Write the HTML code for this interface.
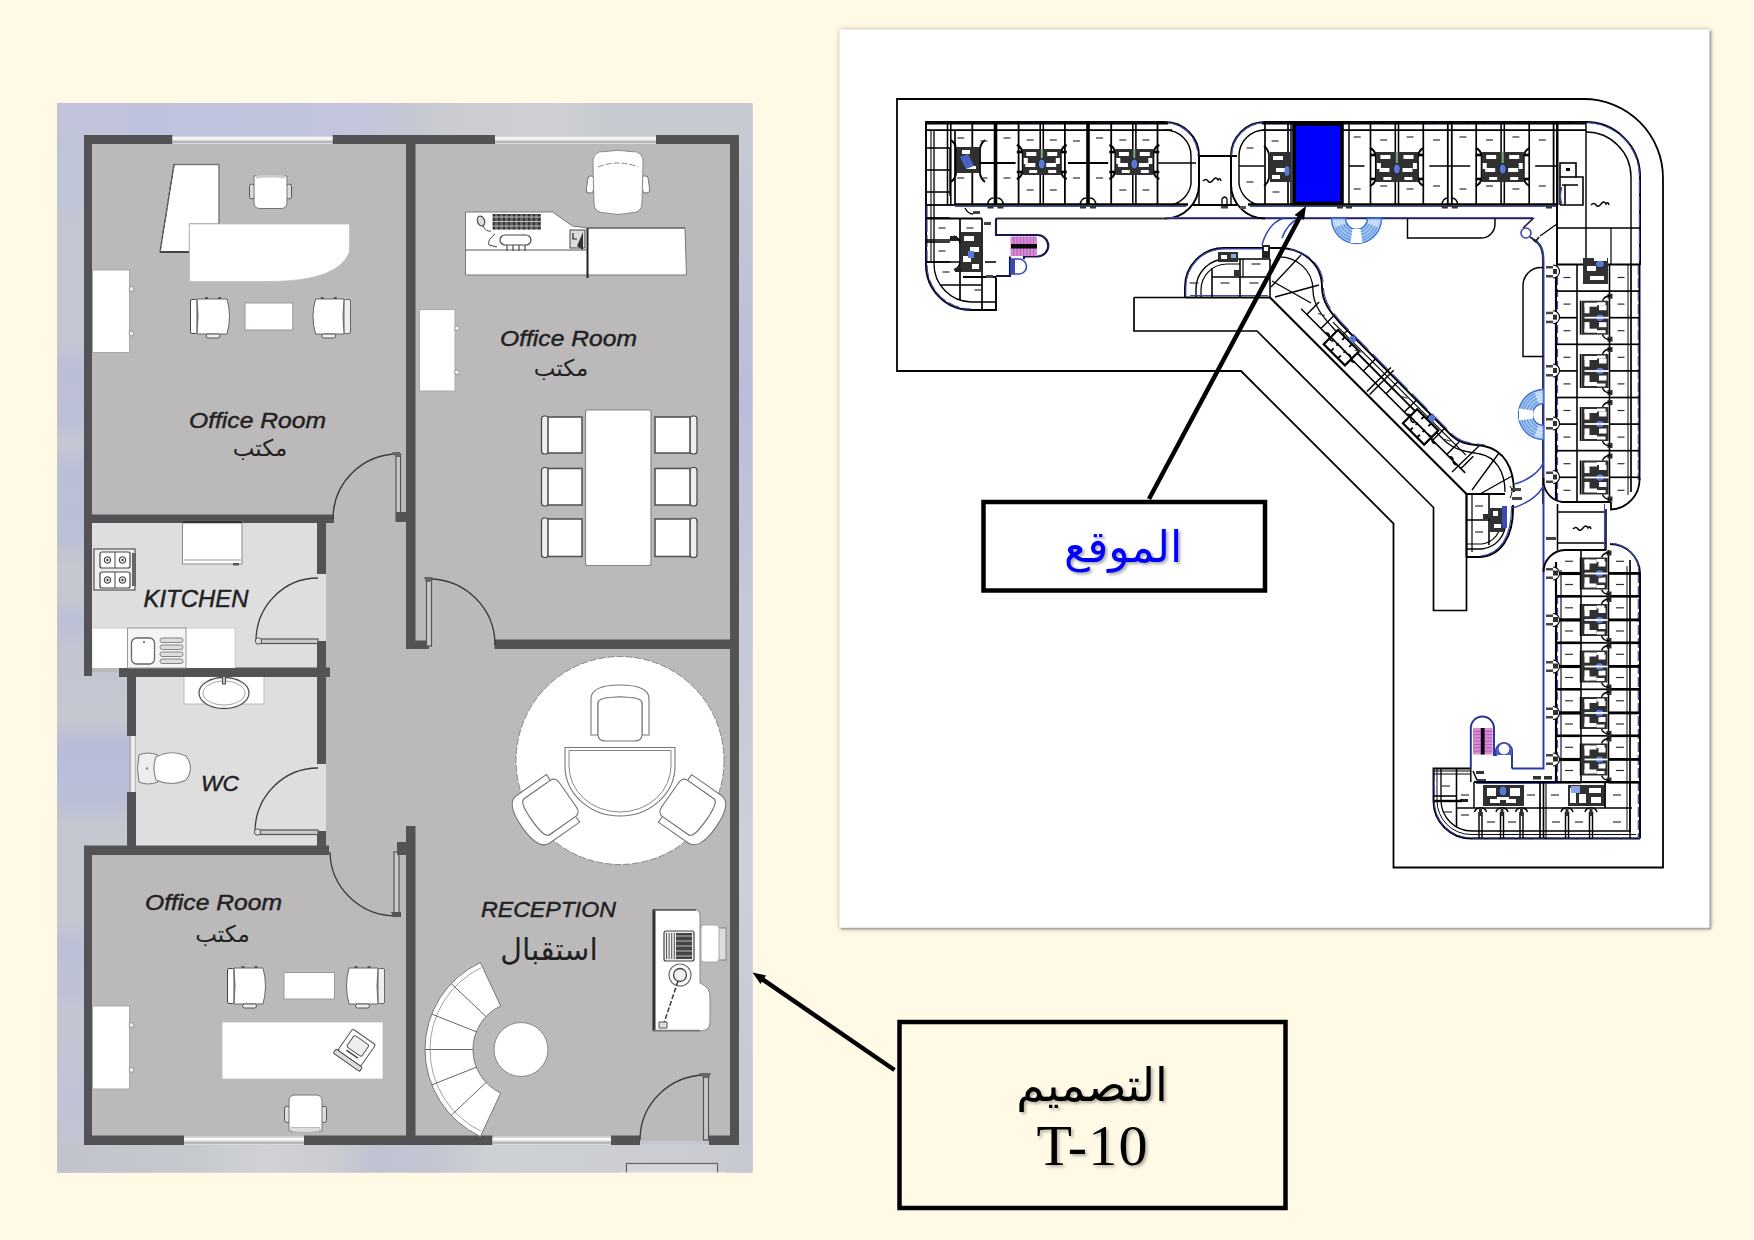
<!DOCTYPE html>
<html lang="ar"><head><meta charset="utf-8"><title>T-10</title>
<style>
html,body{margin:0;padding:0;background:#FFF9E6;}
body{width:1754px;height:1240px;overflow:hidden;}
svg{display:block}
</style></head><body>
<svg width="1754" height="1240" viewBox="0 0 1754 1240">
<defs><filter id="sh" x="-2%" y="-2%" width="104%" height="104%"><feDropShadow dx="0.5" dy="0.5" stdDeviation="2.2" flood-color="#5a4a20" flood-opacity="0.6"/></filter></defs>
<rect width="1754" height="1240" fill="#FFF9E6"/>
<g id="plan">
<defs>
<linearGradient id="bgA" x1="0" y1="0" x2="1" y2="0"><stop offset="0" stop-color="#BEC1DD"/><stop offset="0.42" stop-color="#C2C5DD"/><stop offset="0.50" stop-color="#C4C7D2"/><stop offset="0.56" stop-color="#CACCD1"/><stop offset="0.72" stop-color="#CED0D4"/><stop offset="0.8" stop-color="#C6C9CF"/><stop offset="1" stop-color="#C7CAD0"/></linearGradient>
<linearGradient id="bgL" x1="0" y1="0" x2="0" y2="1"><stop offset="0.0" stop-color="#C0C3DA"/><stop offset="0.0907" stop-color="#C0C5D7"/><stop offset="0.1187" stop-color="#C3C7D1"/><stop offset="0.2216" stop-color="#C3C7D1"/><stop offset="0.2496" stop-color="#BBBED7"/><stop offset="0.2964" stop-color="#BCC0D6"/><stop offset="0.3198" stop-color="#C5C8D2"/><stop offset="0.3432" stop-color="#BABED7"/><stop offset="0.4086" stop-color="#BCC0D6"/><stop offset="0.432" stop-color="#C5C8D0"/><stop offset="0.4647" stop-color="#C4C7D1"/><stop offset="0.4834" stop-color="#BBBFD6"/><stop offset="0.5115" stop-color="#C2C5D2"/><stop offset="0.5769" stop-color="#C5C8D0"/><stop offset="0.6003" stop-color="#B9BCD7"/><stop offset="0.6517" stop-color="#BABED7"/><stop offset="0.6751" stop-color="#C4C7D0"/><stop offset="0.7639" stop-color="#C4C7D0"/><stop offset="0.7873" stop-color="#BCC0D6"/><stop offset="0.8294" stop-color="#BEC1D6"/><stop offset="0.8481" stop-color="#C3C6D2"/><stop offset="0.9322" stop-color="#C0C3D5"/><stop offset="1.0" stop-color="#C2C5CF"/></linearGradient>
<linearGradient id="bgR" x1="0" y1="0" x2="0" y2="1"><stop offset="0" stop-color="#C6CAD2"/><stop offset="0.25" stop-color="#B9BDD8"/><stop offset="0.45" stop-color="#C5C8D6"/><stop offset="0.7" stop-color="#CDD0D6"/><stop offset="1" stop-color="#C4C7CF"/></linearGradient>
<linearGradient id="bgB" x1="0" y1="0" x2="1" y2="0"><stop offset="0" stop-color="#C0C3CC"/><stop offset="0.2" stop-color="#C6C9CE"/><stop offset="0.3" stop-color="#D0D2D6"/><stop offset="0.4" stop-color="#CACCD2"/><stop offset="0.46" stop-color="#BFC2D2"/><stop offset="0.55" stop-color="#C4C7D2"/><stop offset="0.62" stop-color="#CDD0D4"/><stop offset="0.9" stop-color="#CBCDD2"/><stop offset="1" stop-color="#C6C9D0"/></linearGradient>
</defs>
<rect x="57" y="103" width="695.5" height="1069.5" fill="#C3C6D2" />
<rect x="57" y="103" width="695.5" height="33" fill="url(#bgA)" />
<rect x="57" y="103" width="71" height="1069.5" fill="url(#bgL)" />
<rect x="739" y="136" width="13.5" height="1036.5" fill="url(#bgR)" />
<rect x="57" y="1144" width="695.5" height="28.5" fill="url(#bgB)" />
<path d="M88,139 H735 V1141 H88 V850 H131 V672 H88 Z" fill="#BBB9BA"/>
<rect x="92" y="523" width="234" height="145" fill="#DEDEDE" />
<rect x="136" y="677" width="190" height="169" fill="#DEDEDE" />
<rect x="84" y="135" width="88.5" height="9" fill="#535355" />
<rect x="332.5" y="135" width="162.5" height="9" fill="#535355" />
<rect x="656" y="135" width="83" height="9" fill="#535355" />
<rect x="172.5" y="136" width="160.0" height="8" fill="#D9D9DB" />
<line x1="172.5" y1="138.5" x2="332.5" y2="138.5" stroke="#fff" stroke-width="2"/>
<line x1="172.5" y1="142.0" x2="332.5" y2="142.0" stroke="#A9A9AB" stroke-width="1.5"/>
<rect x="495" y="136" width="161" height="8" fill="#D9D9DB" />
<line x1="495" y1="138.5" x2="656" y2="138.5" stroke="#fff" stroke-width="2"/>
<line x1="495" y1="142.0" x2="656" y2="142.0" stroke="#A9A9AB" stroke-width="1.5"/>
<rect x="84" y="135" width="8" height="541" fill="#535355" />
<rect x="84" y="846" width="8" height="299" fill="#535355" />
<rect x="730" y="135" width="9" height="1010" fill="#535355" />
<rect x="84" y="1135.5" width="100" height="9.5" fill="#535355" />
<rect x="304" y="1135.5" width="188.5" height="9.5" fill="#535355" />
<rect x="611" y="1135.5" width="29" height="9.5" fill="#535355" />
<rect x="709" y="1135.5" width="30" height="9.5" fill="#535355" />
<rect x="184" y="1136.5" width="120" height="8.5" fill="#D9D9DB" />
<line x1="184" y1="1139.25" x2="304" y2="1139.25" stroke="#fff" stroke-width="2"/>
<line x1="184" y1="1142.75" x2="304" y2="1142.75" stroke="#A9A9AB" stroke-width="1.5"/>
<rect x="492.5" y="1136.5" width="118.5" height="8.5" fill="#D9D9DB" />
<line x1="492.5" y1="1139.25" x2="611" y2="1139.25" stroke="#fff" stroke-width="2"/>
<line x1="492.5" y1="1142.75" x2="611" y2="1142.75" stroke="#A9A9AB" stroke-width="1.5"/>
<rect x="406" y="135" width="9.5" height="514" fill="#535355" />
<rect x="406" y="640.5" width="23" height="8.5" fill="#535355" />
<rect x="494.5" y="639.5" width="240.5" height="9.5" fill="#535355" />
<rect x="88" y="514.5" width="246" height="8.5" fill="#535355" />
<rect x="317" y="519" width="9" height="55" fill="#535355" />
<rect x="317" y="641" width="9" height="31" fill="#535355" />
<rect x="119" y="667.5" width="211" height="9.5" fill="#535355" />
<rect x="127" y="672" width="9" height="64" fill="#535355" />
<rect x="127" y="792" width="9" height="58" fill="#535355" />
<line x1="133" y1="736" x2="133" y2="792" stroke="#F4F4F4" stroke-width="3"/>
<line x1="129.5" y1="736" x2="129.5" y2="792" stroke="#A5A7B0" stroke-width="1.5"/>
<rect x="317" y="672" width="9" height="92" fill="#535355" />
<rect x="317" y="831" width="9" height="19" fill="#535355" />
<rect x="84" y="845.5" width="245" height="9.5" fill="#535355" />
<rect x="406" y="826" width="9.5" height="319" fill="#535355" />
<path d="M398,454 A65,65 0 0 0 333,519" fill="none" stroke="#3c3c3c" stroke-width="1.3"/>
<rect x="396" y="454" width="4.5" height="67" fill="#C9C9C9" stroke="#555" stroke-width="1.2"/>
<path d="M392,452 l8,0 l0,5 l-4,0 z" fill="#666"/>
<rect x="396" y="512" width="10" height="10" fill="#535355" />
<path d="M429,579 A66,66 0 0 1 495,645" fill="none" stroke="#3c3c3c" stroke-width="1.3"/>
<rect x="426.5" y="579" width="5.0" height="67" fill="#C9C9C9" stroke="#555" stroke-width="1.2"/>
<path d="M424,577 l9,0 l-3,5 l-4,0 z" fill="#666"/>
<path d="M318,578 A62,63 0 0 0 256,641" fill="none" stroke="#3c3c3c" stroke-width="1.3"/>
<rect x="257" y="639" width="61" height="4.5" fill="#C9C9C9" stroke="#555" stroke-width="1.2"/>
<circle cx="258.5" cy="641" r="3.2" fill="#ddd" stroke="#555" stroke-width="1"/>
<path d="M318,768 A63,64 0 0 0 255,832" fill="none" stroke="#3c3c3c" stroke-width="1.3"/>
<rect x="256" y="830" width="62" height="4.5" fill="#C9C9C9" stroke="#555" stroke-width="1.2"/>
<circle cx="257.5" cy="832" r="3.2" fill="#ddd" stroke="#555" stroke-width="1"/>
<path d="M330,852 A66,65 0 0 0 396,916" fill="none" stroke="#3c3c3c" stroke-width="1.3"/>
<rect x="394" y="852" width="5" height="63" fill="#C9C9C9" stroke="#555" stroke-width="1.2"/>
<path d="M391,912 l10,0 l0,5 l-8,0 z" fill="#555"/>
<rect x="397" y="842" width="9" height="13" fill="#535355" />
<path d="M706,1075 A66,65 0 0 0 640,1140" fill="none" stroke="#3c3c3c" stroke-width="1.3"/>
<rect x="703.5" y="1076" width="5.0" height="64" fill="#C9C9C9" stroke="#555" stroke-width="1.2"/>
<path d="M699,1073 l12,0 l-2,5 l-6,0 z" fill="#666"/>
<path d="M174,164.5 H219 V224 H189.5 V252 H160 Z" fill="#fff" stroke="#666" stroke-width="1.2"/>
<line x1="174" y1="164.5" x2="219" y2="164.5" stroke="#777" stroke-width="1.3"/>
<line x1="174" y1="164.5" x2="160" y2="252" stroke="#555" stroke-width="1.3" stroke-dasharray="4 1.5"/>
<line x1="160" y1="252" x2="189.5" y2="252" stroke="#444" stroke-width="2"/>
<path d="M189.5,224 H349.5 V252 Q338,281.5 269,281.5 H189.5 Z" fill="#fff" stroke="#bbb" stroke-width="0.8"/>
<rect x="249.5" y="184.3" width="5" height="14.5" rx="2" fill="#ddd" stroke="#555" stroke-width="1"/>
<rect x="286.5" y="184.3" width="5" height="14.5" rx="2" fill="#ddd" stroke="#555" stroke-width="1"/>
<path d="M254,176 Q270.5,173 287,176 V202.5 Q287,208.5 281,208.5 H260 Q254,208.5 254,202.5 Z" fill="#fff" stroke="#777" stroke-width="1"/>
<path d="M256,175.5 Q270.5,173 285,175.5 V178.5 Q270.5,176.5 256,178.5 Z" fill="#ccc"/>
<rect x="92.5" y="270" width="37.0" height="82.5" rx="0" fill="#fff" stroke="#aaa" stroke-width="1"/>
<circle cx="131.5" cy="289.0" r="2.4" fill="#eee" stroke="#888" stroke-width="0.8"/>
<circle cx="131.5" cy="333.5" r="2.4" fill="#eee" stroke="#888" stroke-width="0.8"/>
<rect x="190.5" y="299.5" width="6.5" height="34" rx="1.5" fill="#fff" stroke="#444" stroke-width="1"/>
<path d="M197,299 H227 Q232,316.5 227,334 H197 Q199,316.5 197,299 Z" fill="#fff" stroke="#666" stroke-width="1"/>
<rect x="206.0" y="334" width="14" height="4" rx="2" fill="#eee" stroke="#555" stroke-width="1"/>
<rect x="205.0" y="297" width="3" height="2" fill="#555"/><rect x="218.0" y="297" width="3" height="2" fill="#555"/>
<rect x="245" y="303" width="47.7" height="27" rx="0" fill="#fff" stroke="#999" stroke-width="1"/>
<rect x="344" y="299.5" width="6.5" height="34" rx="1.5" fill="#eee" stroke="#666" stroke-width="1"/>
<path d="M344,299 H315.5 Q310.5,316.5 315.5,334 H344 Q342,316.5 344,299 Z" fill="#fff" stroke="#666" stroke-width="1"/>
<rect x="321.75" y="334" width="14" height="4" rx="2" fill="#eee" stroke="#555" stroke-width="1"/>
<rect x="320.75" y="297" width="3" height="2" fill="#555"/><rect x="333.75" y="297" width="3" height="2" fill="#555"/>
<path d="M465.5,212 H552.5 L572.5,226 L587.5,228 H685 L686.5,275 H465.5 Z" fill="#fff" stroke="#777" stroke-width="1"/>
<line x1="465.5" y1="250" x2="587.5" y2="250" stroke="#555" stroke-width="1.2"/>
<line x1="587.5" y1="228" x2="587.5" y2="278" stroke="#222" stroke-width="2"/>
<line x1="587.5" y1="228" x2="685" y2="228" stroke="#555" stroke-width="1.2"/>
<rect x="492.5" y="214" width="48.5" height="15.5" fill="#666"/>
<line x1="494" y1="214" x2="494" y2="229.5" stroke="#222" stroke-width="1.4"/>
<line x1="499" y1="214" x2="499" y2="229.5" stroke="#222" stroke-width="1.4"/>
<line x1="504" y1="214" x2="504" y2="229.5" stroke="#222" stroke-width="1.4"/>
<line x1="509" y1="214" x2="509" y2="229.5" stroke="#222" stroke-width="1.4"/>
<line x1="514" y1="214" x2="514" y2="229.5" stroke="#222" stroke-width="1.4"/>
<line x1="519" y1="214" x2="519" y2="229.5" stroke="#222" stroke-width="1.4"/>
<line x1="524" y1="214" x2="524" y2="229.5" stroke="#222" stroke-width="1.4"/>
<line x1="529" y1="214" x2="529" y2="229.5" stroke="#222" stroke-width="1.4"/>
<line x1="534" y1="214" x2="534" y2="229.5" stroke="#222" stroke-width="1.4"/>
<line x1="539" y1="214" x2="539" y2="229.5" stroke="#222" stroke-width="1.4"/>
<line x1="492.5" y1="217.0" x2="541" y2="217.0" stroke="#ddd" stroke-width="0.8"/>
<line x1="492.5" y1="221.5" x2="541" y2="221.5" stroke="#ddd" stroke-width="0.8"/>
<line x1="492.5" y1="226.0" x2="541" y2="226.0" stroke="#ddd" stroke-width="0.8"/>
<ellipse cx="481" cy="221" rx="3.5" ry="5" fill="#ddd" stroke="#444" stroke-width="1.2" transform="rotate(-20 481 221)"/>
<path d="M483,226 q3,6 8,5" fill="none" stroke="#444" stroke-width="1"/>
<path d="M495,234 q-8,6 -6,11 l8,2" fill="none" stroke="#444" stroke-width="1"/>
<rect x="500" y="235" width="31" height="10" rx="5" fill="#fff" stroke="#444" stroke-width="1.2"/>
<line x1="507" y1="245" x2="507" y2="251" stroke="#555" stroke-width="1.3"/>
<line x1="513" y1="245" x2="513" y2="251" stroke="#555" stroke-width="1.3"/>
<line x1="519" y1="245" x2="519" y2="251" stroke="#555" stroke-width="1.3"/>
<line x1="525" y1="245" x2="525" y2="251" stroke="#555" stroke-width="1.3"/>
<rect x="570" y="230" width="15" height="18" fill="#ddd" stroke="#444" stroke-width="1"/>
<path d="M573,233 v6 h4" fill="none" stroke="#222" stroke-width="1.2"/>
<path d="M583,232 v18 l-6,-4 z" fill="#333"/>
<rect x="587" y="176" width="7" height="17" rx="3" fill="#fff" stroke="#777" stroke-width="1" transform="rotate(8 590 185)"/>
<rect x="642" y="176" width="7" height="17" rx="3" fill="#fff" stroke="#777" stroke-width="1" transform="rotate(-8 645 185)"/>
<path d="M593,166 Q591,150 606,151.5 Q618,149 630,151.5 Q645,150 643,166 L642,203 Q642,213 630,213 Q618,216 606,213 Q594,213 594,203 Z" fill="#fff" stroke="#888" stroke-width="1"/>
<path d="M598,167 Q618,159 638,167" fill="none" stroke="#888" stroke-width="1" stroke-dasharray="6 2"/>
<rect x="419.5" y="309.5" width="35.5" height="81.5" rx="0" fill="#fff" stroke="#aaa" stroke-width="1"/>
<circle cx="457" cy="328.2" r="2.4" fill="#eee" stroke="#888" stroke-width="0.8"/>
<circle cx="457" cy="372.3" r="2.4" fill="#eee" stroke="#888" stroke-width="0.8"/>
<rect x="585.5" y="410" width="65.5" height="155.5" rx="2" fill="#fff" stroke="#888" stroke-width="1.2"/>
<rect x="541.5" y="416" width="7" height="38" rx="3" fill="#eee" stroke="#444" stroke-width="1.2"/>
<rect x="548" y="417" width="34" height="36" rx="0" fill="#fff" stroke="#555" stroke-width="1.6"/>
<rect x="690" y="416" width="7" height="38" rx="3" fill="#eee" stroke="#444" stroke-width="1.2"/>
<rect x="655" y="417" width="35" height="36" rx="0" fill="#fff" stroke="#555" stroke-width="1.6"/>
<rect x="541.5" y="467.5" width="7" height="38.5" rx="3" fill="#eee" stroke="#444" stroke-width="1.2"/>
<rect x="548" y="468.5" width="34" height="36.5" rx="0" fill="#fff" stroke="#555" stroke-width="1.6"/>
<rect x="690" y="467.5" width="7" height="38.5" rx="3" fill="#eee" stroke="#444" stroke-width="1.2"/>
<rect x="655" y="468.5" width="35" height="36.5" rx="0" fill="#fff" stroke="#555" stroke-width="1.6"/>
<rect x="541.5" y="518" width="7" height="39.5" rx="3" fill="#eee" stroke="#444" stroke-width="1.2"/>
<rect x="548" y="519" width="34" height="37.5" rx="0" fill="#fff" stroke="#555" stroke-width="1.6"/>
<rect x="690" y="518" width="7" height="39.5" rx="3" fill="#eee" stroke="#444" stroke-width="1.2"/>
<rect x="655" y="519" width="35" height="37.5" rx="0" fill="#fff" stroke="#555" stroke-width="1.6"/>
<rect x="182.5" y="521" width="59.5" height="43" rx="0" fill="#fff" stroke="#888" stroke-width="1"/>
<line x1="182.5" y1="522" x2="242" y2="522" stroke="#333" stroke-width="2.5"/>
<line x1="184" y1="560" x2="241" y2="560" stroke="#999" stroke-width="1"/>
<rect x="233" y="563" width="6" height="2.5" fill="#555"/>
<rect x="94" y="549" width="41" height="41" fill="#eee" stroke="#555" stroke-width="1.2"/>
<rect x="132" y="553" width="4" height="33" fill="#666"/>
<rect x="100" y="552" width="30" height="16" rx="2" fill="#fff" stroke="#444" stroke-width="1.2"/>
<line x1="115" y1="552" x2="115" y2="568" stroke="#444" stroke-width="1"/>
<circle cx="107.5" cy="560" r="3.3" fill="#ddd" stroke="#333" stroke-width="1"/><circle cx="107.5" cy="560" r="1" fill="#222"/>
<circle cx="122.5" cy="560" r="3.3" fill="#ddd" stroke="#333" stroke-width="1"/><circle cx="122.5" cy="560" r="1" fill="#222"/>
<rect x="100" y="572" width="30" height="16" rx="2" fill="#fff" stroke="#444" stroke-width="1.2"/>
<line x1="115" y1="572" x2="115" y2="588" stroke="#444" stroke-width="1"/>
<circle cx="107.5" cy="580" r="3.3" fill="#ddd" stroke="#333" stroke-width="1"/><circle cx="107.5" cy="580" r="1" fill="#222"/>
<circle cx="122.5" cy="580" r="3.3" fill="#ddd" stroke="#333" stroke-width="1"/><circle cx="122.5" cy="580" r="1" fill="#222"/>
<rect x="92.5" y="628" width="142.5" height="40" fill="#fff" />
<path d="M92.5,628 H235 V668" fill="none" stroke="#ccc" stroke-width="1"/>
<rect x="127.5" y="628" width="58.5" height="40" fill="#f4f4f4" stroke="#999" stroke-width="1"/>
<rect x="131.5" y="638" width="23" height="26" rx="5" fill="#fff" stroke="#666" stroke-width="1.3"/>
<circle cx="144" cy="642" r="1" fill="#555"/>
<rect x="160" y="638" width="23" height="4.5" rx="2.2" fill="#ddd" stroke="#777" stroke-width="0.9"/>
<rect x="160" y="645" width="23" height="4.5" rx="2.2" fill="#ddd" stroke="#777" stroke-width="0.9"/>
<rect x="160" y="652" width="23" height="4.5" rx="2.2" fill="#ddd" stroke="#777" stroke-width="0.9"/>
<rect x="160" y="659" width="23" height="4.5" rx="2.2" fill="#ddd" stroke="#777" stroke-width="0.9"/>
<rect x="184" y="677" width="80" height="27" fill="#fff" />
<path d="M184,677 V704 H264 V677" fill="none" stroke="#bbb" stroke-width="1"/>
<ellipse cx="224" cy="693" rx="25" ry="15.5" fill="#fff" stroke="#555" stroke-width="1.3"/>
<ellipse cx="224" cy="693" rx="21" ry="12" fill="#fff" stroke="#999" stroke-width="0.9"/>
<path d="M222.5,677 v7 h3 v-7" fill="#ccc" stroke="#444" stroke-width="1"/>
<path d="M139,755 Q147,751 158,755 L158,782 Q147,786 139,782 Q136,768 139,755 Z" fill="#eee" stroke="#777" stroke-width="1"/>
<circle cx="147" cy="768.5" r="1.3" fill="#888"/>
<path d="M156,757 Q172,749 186,756 Q195,768 186,780 Q172,787 156,780 Q152,768 156,757 Z" fill="#fff" stroke="#888" stroke-width="1.2"/>
<rect x="92.5" y="1006" width="37.0" height="83" rx="0" fill="#fff" stroke="#aaa" stroke-width="1"/>
<circle cx="131.5" cy="1025.1" r="2.4" fill="#eee" stroke="#888" stroke-width="0.8"/>
<circle cx="131.5" cy="1069.9" r="2.4" fill="#eee" stroke="#888" stroke-width="0.8"/>
<rect x="227.5" y="968.5" width="6.5" height="35" rx="1.5" fill="#fff" stroke="#444" stroke-width="1"/>
<path d="M234,968 H263 Q268,986.0 263,1004 H234 Q236,986.0 234,968 Z" fill="#fff" stroke="#666" stroke-width="1"/>
<rect x="242.5" y="1004" width="14" height="4" rx="2" fill="#eee" stroke="#555" stroke-width="1"/>
<rect x="241.5" y="966" width="3" height="2" fill="#555"/><rect x="254.5" y="966" width="3" height="2" fill="#555"/>
<rect x="284" y="972.5" width="50.5" height="26.5" rx="0" fill="#fff" stroke="#999" stroke-width="1"/>
<rect x="378" y="968.5" width="6.5" height="35" rx="1.5" fill="#eee" stroke="#666" stroke-width="1"/>
<path d="M378,968 H349 Q344,986.0 349,1004 H378 Q376,986.0 378,968 Z" fill="#fff" stroke="#666" stroke-width="1"/>
<rect x="355.5" y="1004" width="14" height="4" rx="2" fill="#eee" stroke="#555" stroke-width="1"/>
<rect x="354.5" y="966" width="3" height="2" fill="#555"/><rect x="367.5" y="966" width="3" height="2" fill="#555"/>
<rect x="222" y="1022" width="161" height="57" rx="0" fill="#fff" stroke="#bbb" stroke-width="0.8"/>
<g transform="rotate(35 355 1050)"><rect x="341" y="1034" width="28" height="26" rx="2" fill="#fff" stroke="#555" stroke-width="1"/><rect x="346" y="1038" width="18" height="14" rx="2" fill="#eee" stroke="#555" stroke-width="1"/><rect x="339" y="1060" width="32" height="5" rx="1" fill="#ddd" stroke="#444" stroke-width="1"/><line x1="348" y1="1055" x2="362" y2="1055" stroke="#444" stroke-width="1.5"/></g>
<rect x="284.5" y="1106.4" width="5" height="16.0" rx="2" fill="#ddd" stroke="#555" stroke-width="1"/>
<rect x="321.5" y="1106.4" width="5" height="16.0" rx="2" fill="#ddd" stroke="#555" stroke-width="1"/>
<path d="M289,1131 Q305.5,1134 322,1131 V1101 Q322,1095 316,1095 H295 Q289,1095 289,1101 Z" fill="#fff" stroke="#777" stroke-width="1"/>
<path d="M291,1131.5 Q305.5,1134 320,1131.5 V1127.5 H291 Z" fill="#ddd" stroke="#999" stroke-width="0.6"/>
<circle cx="620" cy="760.5" r="104" fill="#fff" stroke="#888" stroke-width="1" stroke-dasharray="7 2"/>
<g transform="translate(620 713) rotate(0)"><path d="M-29,22 V-14 Q-29,-28 0,-28 Q29,-28 29,-14 V22 H22 V-10 Q22,-16 0,-16 Q-22,-16 -22,-10 V22 Z" fill="#fff" stroke="#777" stroke-width="1.1"/><path d="M-22,22 V-10 Q-22,-16 0,-16 Q22,-16 22,-10 V22 Q22,28 14,28 H-14 Q-22,28 -22,22 Z" fill="#fff" stroke="#777" stroke-width="1.1"/></g>
<path d="M565,747.5 H675 V766 A55,50 0 0 1 565,766 Z" fill="#fff" stroke="#777" stroke-width="1.1"/>
<path d="M569,750.5 H671 V766 A51,46 0 0 1 569,766 Z" fill="none" stroke="#888" stroke-width="1"/>
<g transform="translate(545 811) rotate(-125)"><path d="M-29,22 V-14 Q-29,-28 0,-28 Q29,-28 29,-14 V22 H22 V-10 Q22,-16 0,-16 Q-22,-16 -22,-10 V22 Z" fill="#fff" stroke="#777" stroke-width="1.1"/><path d="M-22,22 V-10 Q-22,-16 0,-16 Q22,-16 22,-10 V22 Q22,28 14,28 H-14 Q-22,28 -22,22 Z" fill="#fff" stroke="#777" stroke-width="1.1"/></g>
<g transform="translate(693 811) rotate(125)"><path d="M-29,22 V-14 Q-29,-28 0,-28 Q29,-28 29,-14 V22 H22 V-10 Q22,-16 0,-16 Q-22,-16 -22,-10 V22 Z" fill="#fff" stroke="#777" stroke-width="1.1"/><path d="M-22,22 V-10 Q-22,-16 0,-16 Q22,-16 22,-10 V22 Q22,28 14,28 H-14 Q-22,28 -22,22 Z" fill="#fff" stroke="#777" stroke-width="1.1"/></g>
<path d="M653,909.5 H694 Q700,909.5 700,916 V983 Q710,987 710,997 V1022 Q710,1031 700,1031 H653 Z" fill="#fff" stroke="#888" stroke-width="1"/>
<line x1="654" y1="909.5" x2="654" y2="1031" stroke="#333" stroke-width="3"/>
<line x1="653" y1="910" x2="696" y2="910" stroke="#555" stroke-width="1.5"/>
<line x1="653" y1="1030.5" x2="700" y2="1030.5" stroke="#777" stroke-width="1.3"/>
<rect x="717" y="928" width="9" height="32" fill="#ddd" stroke="#888" stroke-width="1"/>
<rect x="701" y="925" width="18" height="37" rx="3" fill="#fff" stroke="#aaa" stroke-width="1"/>
<rect x="664" y="931" width="30" height="30" rx="2" fill="#eee" stroke="#444" stroke-width="1.2"/>
<rect x="676" y="933" width="16" height="26" fill="#444"/>
<line x1="666.5" y1="933" x2="666.5" y2="959" stroke="#555" stroke-width="1"/>
<line x1="669.1" y1="933" x2="669.1" y2="959" stroke="#555" stroke-width="1"/>
<line x1="671.7" y1="933" x2="671.7" y2="959" stroke="#555" stroke-width="1"/>
<line x1="674.3" y1="933" x2="674.3" y2="959" stroke="#555" stroke-width="1"/>
<line x1="676" y1="936" x2="692" y2="936" stroke="#ddd" stroke-width="0.8"/>
<line x1="676" y1="941" x2="692" y2="941" stroke="#ddd" stroke-width="0.8"/>
<line x1="676" y1="946" x2="692" y2="946" stroke="#ddd" stroke-width="0.8"/>
<line x1="676" y1="951" x2="692" y2="951" stroke="#ddd" stroke-width="0.8"/>
<line x1="676" y1="956" x2="692" y2="956" stroke="#ddd" stroke-width="0.8"/>
<circle cx="680" cy="975" r="11" fill="#fff" stroke="#666" stroke-width="1.1"/><circle cx="680" cy="975" r="6.5" fill="#eee" stroke="#444" stroke-width="1.3"/>
<path d="M678,981 L664,1023" stroke="#444" stroke-width="1.6" stroke-dasharray="5 2" fill="none"/>
<path d="M659,1022 h8 v6 h-8 z" fill="#ddd" stroke="#555" stroke-width="1"/>
<path d="M480.4,1136.5 A96,96 0 0 1 480.4,962.5 L500.7,1006.0 A48,48 0 0 0 500.7,1093.0 Z" fill="#fff" stroke="#777" stroke-width="1"/>
<path d="M481.1,1131.3 A91,91 0 0 1 481.1,967.7" fill="none" stroke="#999" stroke-width="0.9"/>
<line x1="486.1" y1="1082.4" x2="451.2" y2="1115.4" stroke="#666" stroke-width="1"/>
<line x1="476.4" y1="1067.2" x2="431.8" y2="1084.9" stroke="#666" stroke-width="1"/>
<line x1="473.0" y1="1049.5" x2="425.0" y2="1049.5" stroke="#666" stroke-width="1"/>
<line x1="476.4" y1="1031.8" x2="431.8" y2="1014.1" stroke="#666" stroke-width="1"/>
<line x1="486.1" y1="1016.6" x2="451.2" y2="983.6" stroke="#666" stroke-width="1"/>
<circle cx="521" cy="1049.5" r="27" fill="#fff" stroke="#888" stroke-width="1"/>
<rect x="626.5" y="1163.5" width="91" height="12" fill="#D4D6DB" stroke="#666" stroke-width="1.2"/>
<rect x="620" y="1172.5" width="105" height="7.5" fill="#FFF9E6" />
<g font-family="'Liberation Sans',sans-serif" font-style="italic" fill="#222" stroke="#222" stroke-width="0.45" text-anchor="middle">
<text x="257.5" y="427.5" font-size="22" textLength="137" lengthAdjust="spacingAndGlyphs">Office Room</text>
<text x="568.5" y="346" font-size="22" textLength="137" lengthAdjust="spacingAndGlyphs">Office Room</text>
<text x="213.5" y="910" font-size="22" textLength="137" lengthAdjust="spacingAndGlyphs">Office Room</text>
<text x="196" y="607" font-size="23" textLength="105" lengthAdjust="spacingAndGlyphs">KITCHEN</text>
<text x="220" y="791" font-size="22" textLength="38" lengthAdjust="spacingAndGlyphs">WC</text>
<text x="548.5" y="917" font-size="22" textLength="135" lengthAdjust="spacingAndGlyphs">RECEPTION</text>
</g>
<g font-family="'Liberation Sans','DejaVu Sans',sans-serif" fill="#222" text-anchor="middle">
<text x="260" y="456" font-size="23">مكتب</text>
<text x="561" y="376" font-size="23">مكتب</text>
<text x="222.5" y="942" font-size="23">مكتب</text>
<text x="549" y="960" font-size="30">استقبال</text>
</g>
</g>
<g id="panel">
<rect x="839.5" y="29.5" width="870.5" height="898.5" fill="#fff" filter="url(#sh)"/>
<path d="M1710.3,31 V928.6 H841" fill="none" stroke="#ABABA7" stroke-width="1.8"/>
<path d="M897,99 H1584 A79,79 0 0 1 1663,178 V867.5 H1393.5 V523.5 L1241,371 H897 Z" fill="none" stroke="#000" stroke-width="1.8" />
<path d="M1134,297.5 V331 H1257 L1433.5,507.5 V610.5 H1466.5 V494" fill="none" stroke="#000" stroke-width="1.68" />
<line x1="1134" y1="297.5" x2="1186" y2="297.5" stroke="#000" stroke-width="1.68" />
<path d="M926,205 V122 H1165 A34,34 0 0 1 1199,156 V184 A34,34 0 0 1 1165,218.5" fill="none" stroke="#000" stroke-width="1.92" />
<path d="M926,122.6 H1165 A33,33 0 0 1 1198,156" fill="none" stroke="#3A48B8" stroke-width="1.2" stroke-dasharray="14 3"/>
<line x1="926" y1="123.3" x2="1168" y2="123.3" stroke="#000" stroke-width="2.16" />
<line x1="926" y1="130.2" x2="1172" y2="130.2" stroke="#000" stroke-width="1.68" />
<line x1="955" y1="204.5" x2="1188" y2="204.5" stroke="#000" stroke-width="2.4" />
<line x1="955" y1="206.5" x2="1186" y2="206.5" stroke="#3A48B8" stroke-width="1.2" />
<path d="M1165,130 A26,26 0 0 1 1191,156 V184 A26,26 0 0 1 1172,205" fill="none" stroke="#000" stroke-width="1.44" />
<line x1="947.5" y1="122" x2="947.5" y2="205" stroke="#000" stroke-width="1.56" />
<line x1="950.8" y1="122" x2="950.8" y2="205" stroke="#000" stroke-width="1.56" />
<line x1="972.3" y1="122" x2="972.3" y2="205" stroke="#000" stroke-width="1.8" />
<line x1="995.5" y1="122" x2="995.5" y2="205" stroke="#000" stroke-width="3.6" />
<line x1="1018.6" y1="122" x2="1018.6" y2="205" stroke="#000" stroke-width="1.8" />
<line x1="1040.2" y1="122" x2="1040.2" y2="205" stroke="#000" stroke-width="1.56" />
<line x1="1043.3" y1="122" x2="1043.3" y2="205" stroke="#000" stroke-width="1.56" />
<line x1="1064.9" y1="122" x2="1064.9" y2="205" stroke="#000" stroke-width="1.8" />
<line x1="1088.0" y1="122" x2="1088.0" y2="205" stroke="#000" stroke-width="3.6" />
<line x1="1111.2" y1="122" x2="1111.2" y2="205" stroke="#000" stroke-width="1.8" />
<line x1="1132.8" y1="122" x2="1132.8" y2="205" stroke="#000" stroke-width="1.56" />
<line x1="1135.9" y1="122" x2="1135.9" y2="205" stroke="#000" stroke-width="1.56" />
<line x1="1157.5" y1="122" x2="1157.5" y2="205" stroke="#000" stroke-width="1.8" />
<line x1="975.3" y1="163" x2="1015.6" y2="163" stroke="#000" stroke-width="1.92" />
<line x1="1067.9" y1="163" x2="1108.2" y2="163" stroke="#000" stroke-width="1.92" />
<line x1="1157.5" y1="163" x2="1196" y2="163" stroke="#000" stroke-width="1.68" />
<path d="M1016.75,145 q5,2 6,8 v18 q-1,6 -6,8 M1066.75,145 q-5,2 -6,8 v18 q1,6 6,8" fill="none" stroke="#000" stroke-width="1.92" />
<rect x="1022.8" y="149" width="38.0" height="26" fill="#303030"/>
<rect x="1026.3" y="152" width="10.0" height="4" fill="#fff"/>
<rect x="1025.3" y="163" width="10.0" height="4" fill="#fff"/>
<rect x="1029.2" y="170" width="8.0" height="3" fill="#fff"/>
<rect x="1023.8" y="158" width="4.0" height="6" fill="#fff"/>
<rect x="1047.2" y="152" width="10.0" height="4" fill="#fff"/>
<rect x="1046.2" y="163" width="10.0" height="4" fill="#fff"/>
<rect x="1048.2" y="170" width="8.0" height="3" fill="#fff"/>
<rect x="1055.8" y="158" width="4.0" height="6" fill="#fff"/>
<ellipse cx="1041.75" cy="164" rx="3.5" ry="5" fill="#5A78D8" stroke="#223" stroke-width="1"/>
<rect x="1040.8" y="149" width="2.0" height="9" fill="#7a8"/>
<line x1="1016.8" y1="172" x2="1022.8" y2="172" stroke="#000" stroke-width="2.64" />
<line x1="1060.8" y1="172" x2="1066.8" y2="172" stroke="#000" stroke-width="2.64" />
<line x1="1016.8" y1="152" x2="1022.8" y2="152" stroke="#000" stroke-width="2.64" />
<line x1="1060.8" y1="152" x2="1066.8" y2="152" stroke="#000" stroke-width="2.64" />
<path d="M1109.35,145 q5,2 6,8 v18 q-1,6 -6,8 M1159.35,145 q-5,2 -6,8 v18 q1,6 6,8" fill="none" stroke="#000" stroke-width="1.92" />
<rect x="1115.3" y="149" width="38.0" height="26" fill="#303030"/>
<rect x="1118.9" y="152" width="10.0" height="4" fill="#fff"/>
<rect x="1117.9" y="163" width="10.0" height="4" fill="#fff"/>
<rect x="1121.8" y="170" width="8.0" height="3" fill="#fff"/>
<rect x="1116.3" y="158" width="4.0" height="6" fill="#fff"/>
<rect x="1139.8" y="152" width="10.0" height="4" fill="#fff"/>
<rect x="1138.8" y="163" width="10.0" height="4" fill="#fff"/>
<rect x="1140.8" y="170" width="8.0" height="3" fill="#fff"/>
<rect x="1148.3" y="158" width="4.0" height="6" fill="#fff"/>
<ellipse cx="1134.35" cy="164" rx="3.5" ry="5" fill="#5A78D8" stroke="#223" stroke-width="1"/>
<rect x="1133.3" y="149" width="2.0" height="9" fill="#7a8"/>
<line x1="1109.3" y1="172" x2="1115.3" y2="172" stroke="#000" stroke-width="2.64" />
<line x1="1153.3" y1="172" x2="1159.3" y2="172" stroke="#000" stroke-width="2.64" />
<line x1="1109.3" y1="152" x2="1115.3" y2="152" stroke="#000" stroke-width="2.64" />
<line x1="1153.3" y1="152" x2="1159.3" y2="152" stroke="#000" stroke-width="2.64" />
<rect x="957" y="147" width="22" height="26" fill="#303030"/>
<rect x="962" y="150" width="8" height="4" fill="#fff"/>
<rect x="966" y="166" width="10" height="3" fill="#fff"/>
<path d="M960,157 l8,-3 l6,12 l-8,3 z" fill="#4A62C8"/>
<path d="M951,140 q4,3 5,8 v26 q-1,5 -5,8" fill="none" stroke="#000" stroke-width="1.8" />
<path d="M985,140 q-4,3 -5,8 v26 q1,5 5,8" fill="none" stroke="#000" stroke-width="1.8" />
<path d="M987.45,205 q1,-7 6,-7 M1003.45,205 q-1,-7 -6,-7" fill="none" stroke="#000" stroke-width="1.44" />
<rect x="987.5" y="206" width="6.0" height="2.5" fill="#333"/>
<rect x="997.5" y="206" width="6.0" height="2.5" fill="#333"/>
<path d="M1080.05,205 q1,-7 6,-7 M1096.05,205 q-1,-7 -6,-7" fill="none" stroke="#000" stroke-width="1.44" />
<rect x="1080.0" y="206" width="6.0" height="2.5" fill="#333"/>
<rect x="1090.0" y="206" width="6.0" height="2.5" fill="#333"/>
<line x1="957.2" y1="138" x2="964.2" y2="138" stroke="#303030" stroke-width="1.2" />
<line x1="957.2" y1="178" x2="964.2" y2="178" stroke="#303030" stroke-width="1.2" />
<line x1="980.4" y1="141" x2="987.4" y2="141" stroke="#303030" stroke-width="1.2" />
<line x1="980.4" y1="178" x2="987.4" y2="178" stroke="#303030" stroke-width="1.2" />
<line x1="1003.5" y1="138" x2="1010.5" y2="138" stroke="#303030" stroke-width="1.2" />
<line x1="1003.5" y1="178" x2="1010.5" y2="178" stroke="#303030" stroke-width="1.2" />
<line x1="1026.7" y1="140" x2="1033.7" y2="140" stroke="#303030" stroke-width="1.2" />
<line x1="1026.7" y1="190" x2="1033.7" y2="190" stroke="#303030" stroke-width="1.2" />
<line x1="1049.8" y1="140" x2="1056.8" y2="140" stroke="#303030" stroke-width="1.2" />
<line x1="1049.8" y1="190" x2="1056.8" y2="190" stroke="#303030" stroke-width="1.2" />
<line x1="1073.0" y1="141" x2="1080.0" y2="141" stroke="#303030" stroke-width="1.2" />
<line x1="1073.0" y1="178" x2="1080.0" y2="178" stroke="#303030" stroke-width="1.2" />
<line x1="1096.1" y1="138" x2="1103.1" y2="138" stroke="#303030" stroke-width="1.2" />
<line x1="1096.1" y1="178" x2="1103.1" y2="178" stroke="#303030" stroke-width="1.2" />
<line x1="1119.3" y1="140" x2="1126.3" y2="140" stroke="#303030" stroke-width="1.2" />
<line x1="1119.3" y1="190" x2="1126.3" y2="190" stroke="#303030" stroke-width="1.2" />
<line x1="1142.4" y1="140" x2="1149.4" y2="140" stroke="#303030" stroke-width="1.2" />
<line x1="1142.4" y1="190" x2="1149.4" y2="190" stroke="#303030" stroke-width="1.2" />
<path d="M1199,156 H1237 M1192,205 H1237" fill="none" stroke="#000" stroke-width="1.8" />
<line x1="1199" y1="156" x2="1199" y2="205" stroke="#000" stroke-width="1.44" />
<line x1="1231" y1="156" x2="1231" y2="205" stroke="#000" stroke-width="1.44" />
<path d="M1203,181 q3,-3 5,0 t5,-1 t5,0 q2,-3 3,1" fill="none" stroke="#000" stroke-width="1.4"/>
<path d="M1222,205 v-6 q3,-4 5,0 v6" fill="none" stroke="#000" stroke-width="1.32" />
<rect x="1221" y="206" width="7" height="2.5" fill="#444"/>
<path d="M926,205 V265 A45,45 0 0 0 971,310 H996 V277.5" fill="none" stroke="#000" stroke-width="1.92" />
<path d="M927,205 V265 A44,44 0 0 0 971,309" fill="none" stroke="#3A48B8" stroke-width="1.2" stroke-dasharray="12 3"/>
<path d="M934,131 V264 A38,38 0 0 0 971,302 H996" fill="none" stroke="#000" stroke-width="1.32" />
<line x1="931" y1="131" x2="931" y2="262" stroke="#000" stroke-width="1.08" />
<line x1="955" y1="131" x2="955" y2="205" stroke="#000" stroke-width="1.68" />
<line x1="926" y1="148" x2="950" y2="148" stroke="#000" stroke-width="1.56" />
<line x1="926" y1="170" x2="950" y2="170" stroke="#000" stroke-width="1.56" />
<line x1="926" y1="192" x2="950" y2="192" stroke="#000" stroke-width="1.56" />
<line x1="926" y1="218" x2="950" y2="218" stroke="#000" stroke-width="1.56" />
<line x1="926" y1="242" x2="950" y2="242" stroke="#000" stroke-width="1.56" />
<line x1="926" y1="262" x2="950" y2="262" stroke="#000" stroke-width="1.56" />
<line x1="950" y1="148" x2="950" y2="196" stroke="#000" stroke-width="1.44" />
<line x1="926" y1="205" x2="955" y2="205" stroke="#000" stroke-width="1.8" />
<line x1="926" y1="218.5" x2="982" y2="218.5" stroke="#000" stroke-width="1.92" />
<line x1="926" y1="240" x2="960" y2="240" stroke="#000" stroke-width="1.68" />
<line x1="926" y1="262" x2="960" y2="262" stroke="#000" stroke-width="1.68" />
<line x1="940" y1="285" x2="982" y2="285" stroke="#000" stroke-width="1.44" />
<line x1="960" y1="218.5" x2="960" y2="300" stroke="#000" stroke-width="1.68" />
<line x1="982" y1="218.5" x2="982" y2="310" stroke="#000" stroke-width="1.68" />
<line x1="996" y1="218.5" x2="996" y2="235" stroke="#000" stroke-width="1.68" />
<line x1="963" y1="277" x2="996" y2="277" stroke="#000" stroke-width="1.8" />
<line x1="985" y1="262" x2="996" y2="262" stroke="#000" stroke-width="1.56" />
<rect x="961" y="232" width="20" height="40" fill="#303030"/>
<rect x="964" y="236" width="10" height="5" fill="#fff"/>
<rect x="970" y="247" width="9" height="5" fill="#fff"/>
<rect x="963" y="256" width="8" height="6" fill="#fff"/>
<rect x="972" y="264" width="7" height="5" fill="#fff"/>
<rect x="968" y="251" width="6" height="7" fill="#5A78D8"/>
<path d="M954,236 q5,2 6,7 M954,270 q5,-2 6,-7" fill="none" stroke="#000" stroke-width="1.56" />
<rect x="950" y="236" width="7" height="5" fill="#222"/>
<rect x="955" y="268" width="7" height="4" fill="#222"/>
<line x1="938.5" y1="228" x2="945.5" y2="228" stroke="#303030" stroke-width="1.2" />
<line x1="938.5" y1="251" x2="945.5" y2="251" stroke="#303030" stroke-width="1.2" />
<line x1="942.5" y1="272" x2="949.5" y2="272" stroke="#303030" stroke-width="1.2" />
<line x1="974.5" y1="290" x2="981.5" y2="290" stroke="#303030" stroke-width="1.2" />
<line x1="966.5" y1="228" x2="973.5" y2="228" stroke="#303030" stroke-width="1.2" />
<rect x="973" y="211" width="7" height="3" fill="#444"/>
<rect x="984" y="222" width="7" height="3" fill="#444"/>
<rect x="986" y="275" width="7" height="3" fill="#444"/>
<path d="M965,208 q3,6 8,6" fill="none" stroke="#000" stroke-width="1.32" />
<path d="M996,218.5 H1165" fill="none" stroke="#303030" stroke-width="1.92" />
<path d="M996,218.5 V235 H1037.5 A10.5,10.5 0 0 1 1037.5,256.5 H1024 V259 M1010,256.5 V276 H996" fill="none" stroke="#161A4A" stroke-width="2.16" />
<rect x="1010.5" y="236.5" width="26.5" height="19.5" fill="#D98AD8"/>
<line x1="1013.8" y1="236.5" x2="1013.8" y2="256" stroke="#B060B0" stroke-width="0.96" />
<line x1="1017.1" y1="236.5" x2="1017.1" y2="256" stroke="#B060B0" stroke-width="0.96" />
<line x1="1020.4" y1="236.5" x2="1020.4" y2="256" stroke="#B060B0" stroke-width="0.96" />
<line x1="1023.7" y1="236.5" x2="1023.7" y2="256" stroke="#B060B0" stroke-width="0.96" />
<line x1="1027.0" y1="236.5" x2="1027.0" y2="256" stroke="#B060B0" stroke-width="0.96" />
<line x1="1030.3" y1="236.5" x2="1030.3" y2="256" stroke="#B060B0" stroke-width="0.96" />
<line x1="1033.6" y1="236.5" x2="1033.6" y2="256" stroke="#B060B0" stroke-width="0.96" />
<rect x="1011" y="244" width="26" height="4.5" fill="#0a0a0a"/>
<path d="M1011,259 h8 a7.5,7.5 0 0 1 0,15 h-8 z" fill="#fff" stroke="#3A48B8" stroke-width="1.6"/>
<path d="M1011,259 v15 h4 v-15 z" fill="#3A48B8"/>
<path d="M1165,218.5 H1533 L1523,228" fill="none" stroke="#223" stroke-width="1.68" />
<path d="M1165,217.6 H1533" fill="none" stroke="#3A48B8" stroke-width="1.32" />
<path d="M1533,240 Q1544,243 1543.5,262 V768.5 H1512" fill="none" stroke="#2B3AA0" stroke-width="1.92" />
<path d="M1534,241 Q1543,245 1542.6,262 V504" fill="none" stroke="#223" stroke-width="0.96" />
<circle cx="1526" cy="233" r="5" fill="#fff" stroke="#3A48B8" stroke-width="1.6"/>
<path d="M1530,237 l6,4 l3,-4" fill="none" stroke="#223" stroke-width="1.92" />
<line x1="1540" y1="236" x2="1557" y2="224" stroke="#000" stroke-width="1.32" />
<path d="M1407.5,218.5 V238 H1481 A14,14 0 0 0 1495,224 V218.5" fill="none" stroke="#000" stroke-width="1.44" />
<path d="M1543.5,267.5 H1541 A18,18 0 0 0 1523,285.5 V356.5 H1543.5" fill="none" stroke="#000" stroke-width="1.44" />
<g transform="translate(1356.5 218.5) rotate(0)">
<path d="M-25,0 A25,25 0 0 0 25,0 L11,0 A11,11 0 0 1 -11,0 Z" fill="#9FC4F0" stroke="#3F6FD0" stroke-width="1.3"/>
<path d="M-14,0 A14,14 0 0 0 14,0" fill="none" stroke="#4F86DD" stroke-width="0.9"/>
<path d="M-17,0 A17,17 0 0 0 17,0" fill="none" stroke="#4F86DD" stroke-width="0.9"/>
<path d="M-20,0 A20,20 0 0 0 20,0" fill="none" stroke="#4F86DD" stroke-width="0.9"/>
<path d="M-22.5,0 A22.5,22.5 0 0 0 22.5,0" fill="none" stroke="#4F86DD" stroke-width="0.9"/>
<path d="M-4,10.5 L-6,24.5 L6,24.5 L4,10.5 Z" fill="#fff"/>
<path d="M-12,1 l-12,0 l2,8 l11,-4 Z M12,1 l12,0 l-2,8 l-11,-4 Z" fill="#fff" opacity="0.55"/>
</g>
<g transform="translate(1543.5 414.5) rotate(90)">
<path d="M-25,0 A25,25 0 0 0 25,0 L11,0 A11,11 0 0 1 -11,0 Z" fill="#9FC4F0" stroke="#3F6FD0" stroke-width="1.3"/>
<path d="M-14,0 A14,14 0 0 0 14,0" fill="none" stroke="#4F86DD" stroke-width="0.9"/>
<path d="M-17,0 A17,17 0 0 0 17,0" fill="none" stroke="#4F86DD" stroke-width="0.9"/>
<path d="M-20,0 A20,20 0 0 0 20,0" fill="none" stroke="#4F86DD" stroke-width="0.9"/>
<path d="M-22.5,0 A22.5,22.5 0 0 0 22.5,0" fill="none" stroke="#4F86DD" stroke-width="0.9"/>
<path d="M-4,10.5 L-6,24.5 L6,24.5 L4,10.5 Z" fill="#fff"/>
<path d="M-12,1 l-12,0 l2,8 l11,-4 Z M12,1 l12,0 l-2,8 l-11,-4 Z" fill="#fff" opacity="0.55"/>
</g>
<path d="M1265,218.5 A34,34 0 0 1 1231,184 V156 A34,34 0 0 1 1265,122 H1586 A54,54 0 0 1 1640,176 V265" fill="none" stroke="#000" stroke-width="1.92" />
<path d="M1265,122.6 H1586 A53.4,53.4 0 0 1 1639.4,176 V265" fill="none" stroke="#3A48B8" stroke-width="1.2" stroke-dasharray="14 3"/>
<path d="M1264,122.6 A33.4,33.4 0 0 0 1231.6,156" fill="none" stroke="#3A48B8" stroke-width="1.2" />
<path d="M1265,130 A26,26 0 0 0 1239,156 V184 A26,26 0 0 0 1258,205" fill="none" stroke="#000" stroke-width="1.44" />
<line x1="1262" y1="123.3" x2="1586" y2="123.3" stroke="#000" stroke-width="2.16" />
<line x1="1262" y1="130.2" x2="1586" y2="130.2" stroke="#000" stroke-width="1.68" />
<line x1="1248" y1="204.5" x2="1557" y2="204.5" stroke="#000" stroke-width="2.4" />
<line x1="1250" y1="206.5" x2="1557" y2="206.5" stroke="#3A48B8" stroke-width="1.2" />
<line x1="1265" y1="122" x2="1265" y2="205" stroke="#000" stroke-width="1.68" />
<line x1="1288" y1="122" x2="1288" y2="205" stroke="#000" stroke-width="1.68" />
<line x1="1291" y1="122" x2="1291" y2="205" stroke="#000" stroke-width="1.44" />
<line x1="1370.5" y1="122" x2="1370.5" y2="205" stroke="#000" stroke-width="1.68" />
<line x1="1395.3" y1="122" x2="1395.3" y2="205" stroke="#000" stroke-width="1.56" />
<line x1="1398.5" y1="122" x2="1398.5" y2="205" stroke="#000" stroke-width="1.56" />
<line x1="1423.3" y1="122" x2="1423.3" y2="205" stroke="#000" stroke-width="1.68" />
<line x1="1447.8" y1="122" x2="1447.8" y2="205" stroke="#000" stroke-width="1.8" />
<line x1="1451.8" y1="122" x2="1451.8" y2="205" stroke="#000" stroke-width="1.8" />
<line x1="1476.2" y1="122" x2="1476.2" y2="205" stroke="#000" stroke-width="1.68" />
<line x1="1501.1" y1="122" x2="1501.1" y2="205" stroke="#000" stroke-width="1.56" />
<line x1="1504.3" y1="122" x2="1504.3" y2="205" stroke="#000" stroke-width="1.56" />
<line x1="1529.2" y1="122" x2="1529.2" y2="205" stroke="#000" stroke-width="1.68" />
<line x1="1553.6" y1="122" x2="1553.6" y2="205" stroke="#000" stroke-width="1.8" />
<line x1="1557.6" y1="122" x2="1557.6" y2="205" stroke="#000" stroke-width="1.8" />
<line x1="1349" y1="122" x2="1349" y2="205" stroke="#000" stroke-width="1.44" />
<path d="M1369.9,148 q5,2 6,8 v22 q-1,6 -6,8 M1423.9,148 q-5,2 -6,8 v22 q1,6 6,8" fill="none" stroke="#000" stroke-width="1.92" />
<rect x="1375.9" y="152" width="42.0" height="30" fill="#303030"/>
<rect x="1380.4" y="155" width="10.0" height="4" fill="#fff"/>
<rect x="1379.4" y="168" width="10.0" height="4" fill="#fff"/>
<rect x="1383.4" y="177" width="8.0" height="3" fill="#fff"/>
<rect x="1376.9" y="163" width="4.0" height="6" fill="#fff"/>
<rect x="1403.5" y="155" width="10.0" height="4" fill="#fff"/>
<rect x="1402.5" y="168" width="10.0" height="4" fill="#fff"/>
<rect x="1404.4" y="177" width="8.0" height="3" fill="#fff"/>
<rect x="1412.9" y="163" width="4.0" height="6" fill="#fff"/>
<ellipse cx="1396.9" cy="169" rx="3.5" ry="5" fill="#5A78D8" stroke="#223" stroke-width="1"/>
<rect x="1395.9" y="152" width="2.0" height="11" fill="#7a8"/>
<line x1="1369.9" y1="179" x2="1375.9" y2="179" stroke="#000" stroke-width="2.64" />
<line x1="1417.9" y1="179" x2="1423.9" y2="179" stroke="#000" stroke-width="2.64" />
<line x1="1369.9" y1="155" x2="1375.9" y2="155" stroke="#000" stroke-width="2.64" />
<line x1="1417.9" y1="155" x2="1423.9" y2="155" stroke="#000" stroke-width="2.64" />
<path d="M1475.7,148 q5,2 6,8 v22 q-1,6 -6,8 M1529.7,148 q-5,2 -6,8 v22 q1,6 6,8" fill="none" stroke="#000" stroke-width="1.92" />
<rect x="1481.7" y="152" width="42.0" height="30" fill="#303030"/>
<rect x="1486.2" y="155" width="10.0" height="4" fill="#fff"/>
<rect x="1485.2" y="168" width="10.0" height="4" fill="#fff"/>
<rect x="1489.2" y="177" width="8.0" height="3" fill="#fff"/>
<rect x="1482.7" y="163" width="4.0" height="6" fill="#fff"/>
<rect x="1509.2" y="155" width="10.0" height="4" fill="#fff"/>
<rect x="1508.2" y="168" width="10.0" height="4" fill="#fff"/>
<rect x="1510.2" y="177" width="8.0" height="3" fill="#fff"/>
<rect x="1518.7" y="163" width="4.0" height="6" fill="#fff"/>
<ellipse cx="1502.7" cy="169" rx="3.5" ry="5" fill="#5A78D8" stroke="#223" stroke-width="1"/>
<rect x="1501.7" y="152" width="2.0" height="11" fill="#7a8"/>
<line x1="1475.7" y1="179" x2="1481.7" y2="179" stroke="#000" stroke-width="2.64" />
<line x1="1523.7" y1="179" x2="1529.7" y2="179" stroke="#000" stroke-width="2.64" />
<line x1="1475.7" y1="155" x2="1481.7" y2="155" stroke="#000" stroke-width="2.64" />
<line x1="1523.7" y1="155" x2="1529.7" y2="155" stroke="#000" stroke-width="2.64" />
<line x1="1349" y1="166" x2="1364.5" y2="166" stroke="#000" stroke-width="1.56" />
<line x1="1429.3" y1="166" x2="1470.2" y2="166" stroke="#000" stroke-width="1.56" />
<line x1="1535.2" y1="166" x2="1557" y2="166" stroke="#000" stroke-width="1.56" />
<rect x="1270" y="152" width="21" height="30" fill="#303030"/>
<rect x="1273" y="156" width="10" height="4" fill="#fff"/>
<rect x="1276" y="168" width="10" height="4" fill="#fff"/>
<rect x="1272" y="175" width="8" height="4" fill="#fff"/>
<ellipse cx="1287" cy="171" rx="2.5" ry="5" fill="#5A78D8"/>
<path d="M1264,146 q4,3 5,8 v24 q-1,5 -5,8" fill="none" stroke="#000" stroke-width="1.68" />
<line x1="1239" y1="166" x2="1264" y2="166" stroke="#000" stroke-width="1.44" />
<line x1="1353.7" y1="137" x2="1360.7" y2="137" stroke="#303030" stroke-width="1.2" />
<line x1="1353.7" y1="189" x2="1360.7" y2="189" stroke="#303030" stroke-width="1.2" />
<line x1="1380.2" y1="140" x2="1387.2" y2="140" stroke="#303030" stroke-width="1.2" />
<line x1="1380.2" y1="186" x2="1387.2" y2="186" stroke="#303030" stroke-width="1.2" />
<line x1="1406.6" y1="137" x2="1413.6" y2="137" stroke="#303030" stroke-width="1.2" />
<line x1="1406.6" y1="189" x2="1413.6" y2="189" stroke="#303030" stroke-width="1.2" />
<line x1="1433.1" y1="140" x2="1440.1" y2="140" stroke="#303030" stroke-width="1.2" />
<line x1="1433.1" y1="186" x2="1440.1" y2="186" stroke="#303030" stroke-width="1.2" />
<line x1="1459.5" y1="137" x2="1466.5" y2="137" stroke="#303030" stroke-width="1.2" />
<line x1="1459.5" y1="189" x2="1466.5" y2="189" stroke="#303030" stroke-width="1.2" />
<line x1="1486.0" y1="140" x2="1493.0" y2="140" stroke="#303030" stroke-width="1.2" />
<line x1="1486.0" y1="186" x2="1493.0" y2="186" stroke="#303030" stroke-width="1.2" />
<line x1="1512.4" y1="137" x2="1519.4" y2="137" stroke="#303030" stroke-width="1.2" />
<line x1="1512.4" y1="189" x2="1519.4" y2="189" stroke="#303030" stroke-width="1.2" />
<line x1="1538.9" y1="140" x2="1545.9" y2="140" stroke="#303030" stroke-width="1.2" />
<line x1="1538.9" y1="186" x2="1545.9" y2="186" stroke="#303030" stroke-width="1.2" />
<line x1="1246.5" y1="148" x2="1253.5" y2="148" stroke="#303030" stroke-width="1.2" />
<line x1="1271.5" y1="141" x2="1278.5" y2="141" stroke="#303030" stroke-width="1.2" />
<line x1="1246.5" y1="182" x2="1253.5" y2="182" stroke="#303030" stroke-width="1.2" />
<line x1="1272.5" y1="192" x2="1279.5" y2="192" stroke="#303030" stroke-width="1.2" />
<path d="M1441.8,205 q1,-7 6,-7 M1457.8,205 q-1,-7 -6,-7" fill="none" stroke="#000" stroke-width="1.44" />
<rect x="1441.8" y="206" width="6.0" height="2.5" fill="#333"/>
<rect x="1451.8" y="206" width="6.0" height="2.5" fill="#333"/>
<rect x="1337" y="206" width="6" height="2.5" fill="#333"/>
<rect x="1346" y="206" width="6" height="2.5" fill="#333"/>
<rect x="1546" y="206" width="6" height="2.5" fill="#333"/>
<rect x="1240" y="206" width="6" height="3" fill="#555"/>
<rect x="1294" y="124" width="48" height="79.5" fill="#0000FF" stroke="#000" stroke-width="3.6"/>
<line x1="1557" y1="122" x2="1557" y2="265" stroke="#000" stroke-width="1.92" />
<line x1="1586" y1="122" x2="1586" y2="282" stroke="#000" stroke-width="1.44" />
<path d="M1586,132 A45,45 0 0 1 1631,177 V265" fill="none" stroke="#000" stroke-width="1.44" />
<line x1="1557" y1="228" x2="1640" y2="228" stroke="#000" stroke-width="1.56" />
<line x1="1557" y1="264.5" x2="1640" y2="264.5" stroke="#000" stroke-width="1.92" />
<line x1="1611" y1="228" x2="1611" y2="265" stroke="#000" stroke-width="1.2" />
<rect x="1560" y="163" width="16" height="14" fill="#fff" stroke="#000" stroke-width="1.6"/>
<rect x="1566" y="168" width="4" height="3" fill="#000"/>
<path d="M1560,177 v28 M1576,177 h7 v28 h-23 M1565,185 v20 M1562,185 h16" fill="none" stroke="#000" stroke-width="1.56" />
<path d="M1562,187 q-3,9 0,17" fill="none" stroke="#3A48B8" stroke-width="1.2"/>
<path d="M1591,205 q3,-3 5,0 t5,-1 t5,0 q2,-3 3,1" fill="none" stroke="#000" stroke-width="1.4"/>
<line x1="1556" y1="265" x2="1556" y2="500" stroke="#000" stroke-width="2.16" />
<line x1="1639.5" y1="265" x2="1639.5" y2="480" stroke="#000" stroke-width="1.92" />
<path d="M1543.5,478 A22,22 0 0 0 1562,502 H1611 M1639.5,478 A30,30 0 0 1 1611,509.5 V502" fill="none" stroke="#000" stroke-width="1.8" />
<line x1="1638.3" y1="265" x2="1638.3" y2="480" stroke="#3A48B8" stroke-width="1.2" stroke-dasharray="10 3"/>
<line x1="1557.5" y1="265" x2="1557.5" y2="500" stroke="#3A48B8" stroke-width="1.2" stroke-dasharray="8 4"/>
<line x1="1631" y1="265" x2="1631" y2="492" stroke="#000" stroke-width="1.68" />
<line x1="1628" y1="265" x2="1628" y2="495" stroke="#000" stroke-width="0.96" />
<line x1="1577" y1="265" x2="1577" y2="502" stroke="#000" stroke-width="1.56" />
<line x1="1609.5" y1="265" x2="1609.5" y2="502" stroke="#000" stroke-width="1.56" />
<line x1="1556" y1="291.1" x2="1577" y2="291.1" stroke="#000" stroke-width="1.68" />
<line x1="1609.5" y1="291.1" x2="1639.5" y2="291.1" stroke="#000" stroke-width="1.68" />
<line x1="1577" y1="291.1" x2="1609.5" y2="291.1" stroke="#000" stroke-width="1.68" />
<line x1="1556" y1="317.7" x2="1577" y2="317.7" stroke="#000" stroke-width="1.68" />
<line x1="1609.5" y1="317.7" x2="1639.5" y2="317.7" stroke="#000" stroke-width="1.68" />
<line x1="1556" y1="344.3" x2="1577" y2="344.3" stroke="#000" stroke-width="1.68" />
<line x1="1609.5" y1="344.3" x2="1639.5" y2="344.3" stroke="#000" stroke-width="1.68" />
<line x1="1577" y1="344.3" x2="1609.5" y2="344.3" stroke="#000" stroke-width="1.68" />
<line x1="1556" y1="370.9" x2="1577" y2="370.9" stroke="#000" stroke-width="1.68" />
<line x1="1609.5" y1="370.9" x2="1639.5" y2="370.9" stroke="#000" stroke-width="1.68" />
<line x1="1556" y1="397.5" x2="1577" y2="397.5" stroke="#000" stroke-width="1.68" />
<line x1="1609.5" y1="397.5" x2="1639.5" y2="397.5" stroke="#000" stroke-width="1.68" />
<line x1="1577" y1="397.5" x2="1609.5" y2="397.5" stroke="#000" stroke-width="1.68" />
<line x1="1556" y1="424.1" x2="1577" y2="424.1" stroke="#000" stroke-width="1.68" />
<line x1="1609.5" y1="424.1" x2="1639.5" y2="424.1" stroke="#000" stroke-width="1.68" />
<line x1="1556" y1="450.7" x2="1577" y2="450.7" stroke="#000" stroke-width="1.68" />
<line x1="1609.5" y1="450.7" x2="1639.5" y2="450.7" stroke="#000" stroke-width="1.68" />
<line x1="1577" y1="450.7" x2="1609.5" y2="450.7" stroke="#000" stroke-width="1.68" />
<line x1="1556" y1="477.3" x2="1577" y2="477.3" stroke="#000" stroke-width="1.68" />
<line x1="1609.5" y1="477.3" x2="1639.5" y2="477.3" stroke="#000" stroke-width="1.68" />
<rect x="1583" y="258" width="25" height="26" fill="#303030"/>
<rect x="1587" y="266" width="9" height="5" fill="#fff"/>
<rect x="1590" y="276" width="14" height="4" fill="#fff"/>
<ellipse cx="1600" cy="264" rx="4.5" ry="3.6" fill="#5A78D8" stroke="#223" stroke-width="1"/>
<rect x="1594" y="258" width="13" height="3" fill="#fff"/>
<rect x="1546" y="266" width="8" height="2.5" fill="#444"/>
<rect x="1546" y="275" width="8" height="2.5" fill="#444"/>
<path d="M1553,265 a6,6 0 0 1 0,13" fill="#fff" stroke="#000" stroke-width="1.1"/>
<rect x="1553" y="269" width="4" height="5" fill="#303030"/>
<rect x="1581.5" y="300.7" width="27.0" height="34.0" fill="#303030"/>
<rect x="1607.5" y="293.7" width="5.0" height="5.0" fill="#303030"/>
<rect x="1607.5" y="336.7" width="5.0" height="5.0" fill="#303030"/>
<path d="M1602.5,300.7 q2,-5 8,-5 M1602.5,334.7 q2,5 8,5" fill="none" stroke="#000" stroke-width="1.44" />
<rect x="1584.5" y="303.3" width="5.0" height="10.0" fill="#fff"/>
<rect x="1584.5" y="302.7" width="12.5" height="4.0" fill="#fff"/>
<rect x="1599" y="305.2" width="7.5" height="5.0" fill="#fff"/>
<rect x="1597" y="302.2" width="8.5" height="3.0" fill="#fff"/>
<rect x="1584.5" y="322.1" width="5.0" height="10.0" fill="#fff"/>
<rect x="1584.5" y="328.7" width="12.5" height="4.0" fill="#fff"/>
<rect x="1599" y="322.2" width="7.5" height="5.0" fill="#fff"/>
<rect x="1597" y="330.2" width="8.5" height="3.0" fill="#fff"/>
<ellipse cx="1600" cy="317.7" rx="4.5" ry="3.8" fill="#5A78D8" stroke="#223" stroke-width="1"/>
<line x1="1584.5" y1="317.7" x2="1608.5" y2="317.7" stroke="#fff" stroke-width="1.8" />
<line x1="1580.5" y1="300.7" x2="1580.5" y2="334.7" stroke="#000" stroke-width="1.44" />
<rect x="1546" y="311.7" width="8" height="2.5" fill="#444"/>
<rect x="1546" y="320.7" width="8" height="2.5" fill="#444"/>
<path d="M1553,310.7 a6,6 0 0 1 0,13" fill="#fff" stroke="#000" stroke-width="1.1"/>
<rect x="1553" y="314.7" width="4" height="5.0" fill="#303030"/>
<rect x="1581.5" y="354" width="27.0" height="34" fill="#303030"/>
<rect x="1607.5" y="347" width="5.0" height="5" fill="#303030"/>
<rect x="1607.5" y="390" width="5.0" height="5" fill="#303030"/>
<path d="M1602.5,354 q2,-5 8,-5 M1602.5,388 q2,5 8,5" fill="none" stroke="#000" stroke-width="1.44" />
<rect x="1584.5" y="356.6" width="5.0" height="10.0" fill="#fff"/>
<rect x="1584.5" y="356" width="12.5" height="4" fill="#fff"/>
<rect x="1599" y="358.5" width="7.5" height="5.0" fill="#fff"/>
<rect x="1597" y="355.5" width="8.5" height="3.0" fill="#fff"/>
<rect x="1584.5" y="375.4" width="5.0" height="10.0" fill="#fff"/>
<rect x="1584.5" y="382" width="12.5" height="4" fill="#fff"/>
<rect x="1599" y="375.5" width="7.5" height="5.0" fill="#fff"/>
<rect x="1597" y="383.5" width="8.5" height="3.0" fill="#fff"/>
<ellipse cx="1600" cy="371" rx="4.5" ry="3.8" fill="#5A78D8" stroke="#223" stroke-width="1"/>
<line x1="1584.5" y1="371" x2="1608.5" y2="371" stroke="#fff" stroke-width="1.8" />
<line x1="1580.5" y1="354" x2="1580.5" y2="388" stroke="#000" stroke-width="1.44" />
<rect x="1546" y="365" width="8" height="2.5" fill="#444"/>
<rect x="1546" y="374" width="8" height="2.5" fill="#444"/>
<path d="M1553,364 a6,6 0 0 1 0,13" fill="#fff" stroke="#000" stroke-width="1.1"/>
<rect x="1553" y="368" width="4" height="5" fill="#303030"/>
<rect x="1581.5" y="407" width="27.0" height="34" fill="#303030"/>
<rect x="1607.5" y="400" width="5.0" height="5" fill="#303030"/>
<rect x="1607.5" y="443" width="5.0" height="5" fill="#303030"/>
<path d="M1602.5,407 q2,-5 8,-5 M1602.5,441 q2,5 8,5" fill="none" stroke="#000" stroke-width="1.44" />
<rect x="1584.5" y="409.6" width="5.0" height="10.0" fill="#fff"/>
<rect x="1584.5" y="409" width="12.5" height="4" fill="#fff"/>
<rect x="1599" y="411.5" width="7.5" height="5.0" fill="#fff"/>
<rect x="1597" y="408.5" width="8.5" height="3.0" fill="#fff"/>
<rect x="1584.5" y="428.4" width="5.0" height="10.0" fill="#fff"/>
<rect x="1584.5" y="435" width="12.5" height="4" fill="#fff"/>
<rect x="1599" y="428.5" width="7.5" height="5.0" fill="#fff"/>
<rect x="1597" y="436.5" width="8.5" height="3.0" fill="#fff"/>
<ellipse cx="1600" cy="424" rx="4.5" ry="3.8" fill="#5A78D8" stroke="#223" stroke-width="1"/>
<line x1="1584.5" y1="424" x2="1608.5" y2="424" stroke="#fff" stroke-width="1.8" />
<line x1="1580.5" y1="407" x2="1580.5" y2="441" stroke="#000" stroke-width="1.44" />
<rect x="1546" y="418" width="8" height="2.5" fill="#444"/>
<rect x="1546" y="427" width="8" height="2.5" fill="#444"/>
<path d="M1553,417 a6,6 0 0 1 0,13" fill="#fff" stroke="#000" stroke-width="1.1"/>
<rect x="1553" y="421" width="4" height="5" fill="#303030"/>
<rect x="1581.5" y="460.5" width="27.0" height="34.0" fill="#303030"/>
<rect x="1607.5" y="453.5" width="5.0" height="5.0" fill="#303030"/>
<rect x="1607.5" y="496.5" width="5.0" height="5.0" fill="#303030"/>
<path d="M1602.5,460.5 q2,-5 8,-5 M1602.5,494.5 q2,5 8,5" fill="none" stroke="#000" stroke-width="1.44" />
<rect x="1584.5" y="463.1" width="5.0" height="10.0" fill="#fff"/>
<rect x="1584.5" y="462.5" width="12.5" height="4.0" fill="#fff"/>
<rect x="1599" y="465.0" width="7.5" height="5.0" fill="#fff"/>
<rect x="1597" y="462.0" width="8.5" height="3.0" fill="#fff"/>
<rect x="1584.5" y="481.9" width="5.0" height="10.0" fill="#fff"/>
<rect x="1584.5" y="488.5" width="12.5" height="4.0" fill="#fff"/>
<rect x="1599" y="482.0" width="7.5" height="5.0" fill="#fff"/>
<rect x="1597" y="490.0" width="8.5" height="3.0" fill="#fff"/>
<ellipse cx="1600" cy="477.5" rx="4.5" ry="3.8" fill="#5A78D8" stroke="#223" stroke-width="1"/>
<line x1="1584.5" y1="477.5" x2="1608.5" y2="477.5" stroke="#fff" stroke-width="1.8" />
<line x1="1580.5" y1="460.5" x2="1580.5" y2="494.5" stroke="#000" stroke-width="1.44" />
<rect x="1546" y="471.5" width="8" height="2.5" fill="#444"/>
<rect x="1546" y="480.5" width="8" height="2.5" fill="#444"/>
<path d="M1553,470.5 a6,6 0 0 1 0,13" fill="#fff" stroke="#000" stroke-width="1.1"/>
<rect x="1553" y="474.5" width="4" height="5.0" fill="#303030"/>
<line x1="1563.5" y1="277.5" x2="1570.5" y2="277.5" stroke="#303030" stroke-width="1.2" />
<line x1="1617.5" y1="277.5" x2="1624.5" y2="277.5" stroke="#303030" stroke-width="1.2" />
<line x1="1563.5" y1="304.1" x2="1570.5" y2="304.1" stroke="#303030" stroke-width="1.2" />
<line x1="1617.5" y1="304.1" x2="1624.5" y2="304.1" stroke="#303030" stroke-width="1.2" />
<line x1="1563.5" y1="330.7" x2="1570.5" y2="330.7" stroke="#303030" stroke-width="1.2" />
<line x1="1617.5" y1="330.7" x2="1624.5" y2="330.7" stroke="#303030" stroke-width="1.2" />
<line x1="1563.5" y1="357.3" x2="1570.5" y2="357.3" stroke="#303030" stroke-width="1.2" />
<line x1="1617.5" y1="357.3" x2="1624.5" y2="357.3" stroke="#303030" stroke-width="1.2" />
<line x1="1563.5" y1="383.9" x2="1570.5" y2="383.9" stroke="#303030" stroke-width="1.2" />
<line x1="1617.5" y1="383.9" x2="1624.5" y2="383.9" stroke="#303030" stroke-width="1.2" />
<line x1="1563.5" y1="410.5" x2="1570.5" y2="410.5" stroke="#303030" stroke-width="1.2" />
<line x1="1617.5" y1="410.5" x2="1624.5" y2="410.5" stroke="#303030" stroke-width="1.2" />
<line x1="1563.5" y1="437.1" x2="1570.5" y2="437.1" stroke="#303030" stroke-width="1.2" />
<line x1="1617.5" y1="437.1" x2="1624.5" y2="437.1" stroke="#303030" stroke-width="1.2" />
<line x1="1563.5" y1="463.7" x2="1570.5" y2="463.7" stroke="#303030" stroke-width="1.2" />
<line x1="1617.5" y1="463.7" x2="1624.5" y2="463.7" stroke="#303030" stroke-width="1.2" />
<line x1="1563.5" y1="490.3" x2="1570.5" y2="490.3" stroke="#303030" stroke-width="1.2" />
<line x1="1617.5" y1="490.3" x2="1624.5" y2="490.3" stroke="#303030" stroke-width="1.2" />
<path d="M1557.5,504 V550 M1606,509 V550 M1557.5,512 H1606 M1557.5,543 H1606" fill="none" stroke="#000" stroke-width="1.56" />
<path d="M1573,529 q3,-3 5,0 t5,-1 t5,0 q2,-3 3,1" fill="none" stroke="#000" stroke-width="1.4"/>
<rect x="1546" y="537" width="10" height="3" fill="#444"/>
<line x1="1604.5" y1="504" x2="1604.5" y2="550" stroke="#3A48B8" stroke-width="1.08" />
<path d="M1543.5,572 A22,22 0 0 1 1565,550 H1606 M1610,544 A30,30 0 0 1 1640,573 V838.5" fill="none" stroke="#000" stroke-width="1.92" />
<path d="M1611,543.5 A29,29 0 0 1 1639,573" fill="none" stroke="#3A48B8" stroke-width="1.2" />
<line x1="1556" y1="562" x2="1556" y2="782" stroke="#000" stroke-width="2.16" />
<line x1="1561" y1="570" x2="1561" y2="782" stroke="#000" stroke-width="1.08" />
<line x1="1638.3" y1="573" x2="1638.3" y2="838" stroke="#3A48B8" stroke-width="1.2" stroke-dasharray="10 3"/>
<line x1="1557.5" y1="596" x2="1557.5" y2="782" stroke="#3A48B8" stroke-width="1.2" stroke-dasharray="8 4"/>
<line x1="1630" y1="560" x2="1630" y2="830" stroke="#000" stroke-width="1.68" />
<line x1="1627" y1="566" x2="1627" y2="830" stroke="#000" stroke-width="0.96" />
<line x1="1581" y1="550" x2="1581" y2="782" stroke="#000" stroke-width="1.56" />
<line x1="1608.5" y1="550" x2="1608.5" y2="782" stroke="#000" stroke-width="1.56" />
<line x1="1556" y1="573.0" x2="1581" y2="573.0" stroke="#000" stroke-width="1.68" />
<line x1="1608.5" y1="573.0" x2="1640" y2="573.0" stroke="#000" stroke-width="1.68" />
<line x1="1556" y1="596.3" x2="1581" y2="596.3" stroke="#000" stroke-width="2.64" />
<line x1="1608.5" y1="596.3" x2="1640" y2="596.3" stroke="#000" stroke-width="2.64" />
<line x1="1581" y1="596.3" x2="1608.5" y2="596.3" stroke="#000" stroke-width="1.8" />
<line x1="1556" y1="619.5" x2="1581" y2="619.5" stroke="#000" stroke-width="1.68" />
<line x1="1608.5" y1="619.5" x2="1640" y2="619.5" stroke="#000" stroke-width="1.68" />
<line x1="1556" y1="642.8" x2="1581" y2="642.8" stroke="#000" stroke-width="2.64" />
<line x1="1608.5" y1="642.8" x2="1640" y2="642.8" stroke="#000" stroke-width="2.64" />
<line x1="1581" y1="642.8" x2="1608.5" y2="642.8" stroke="#000" stroke-width="1.8" />
<line x1="1556" y1="666.0" x2="1581" y2="666.0" stroke="#000" stroke-width="1.68" />
<line x1="1608.5" y1="666.0" x2="1640" y2="666.0" stroke="#000" stroke-width="1.68" />
<line x1="1556" y1="689.3" x2="1581" y2="689.3" stroke="#000" stroke-width="2.64" />
<line x1="1608.5" y1="689.3" x2="1640" y2="689.3" stroke="#000" stroke-width="2.64" />
<line x1="1581" y1="689.3" x2="1608.5" y2="689.3" stroke="#000" stroke-width="1.8" />
<line x1="1556" y1="712.5" x2="1581" y2="712.5" stroke="#000" stroke-width="1.68" />
<line x1="1608.5" y1="712.5" x2="1640" y2="712.5" stroke="#000" stroke-width="1.68" />
<line x1="1556" y1="735.8" x2="1581" y2="735.8" stroke="#000" stroke-width="2.64" />
<line x1="1608.5" y1="735.8" x2="1640" y2="735.8" stroke="#000" stroke-width="2.64" />
<line x1="1581" y1="735.8" x2="1608.5" y2="735.8" stroke="#000" stroke-width="1.8" />
<line x1="1556" y1="759.0" x2="1581" y2="759.0" stroke="#000" stroke-width="1.68" />
<line x1="1608.5" y1="759.0" x2="1640" y2="759.0" stroke="#000" stroke-width="1.68" />
<line x1="1556" y1="782.3" x2="1581" y2="782.3" stroke="#000" stroke-width="2.64" />
<line x1="1608.5" y1="782.3" x2="1640" y2="782.3" stroke="#000" stroke-width="2.64" />
<line x1="1581" y1="782.3" x2="1608.5" y2="782.3" stroke="#000" stroke-width="1.8" />
<rect x="1581.5" y="557.5" width="26.0" height="32.0" fill="#303030"/>
<rect x="1606.5" y="550.5" width="5.0" height="5.0" fill="#303030"/>
<rect x="1606.5" y="591.5" width="5.0" height="5.0" fill="#303030"/>
<path d="M1601.5,557.5 q2,-5 8,-5 M1601.5,589.5 q2,5 8,5" fill="none" stroke="#000" stroke-width="1.44" />
<rect x="1584.5" y="559.7" width="5.0" height="10.0" fill="#fff"/>
<rect x="1584.5" y="559.5" width="12.0" height="4.0" fill="#fff"/>
<rect x="1598.5" y="561.5" width="7.0" height="5.0" fill="#fff"/>
<rect x="1596.5" y="559.0" width="8.0" height="3.0" fill="#fff"/>
<rect x="1584.5" y="577.3" width="5.0" height="10.0" fill="#fff"/>
<rect x="1584.5" y="583.5" width="12.0" height="4.0" fill="#fff"/>
<rect x="1598.5" y="577.5" width="7.0" height="5.0" fill="#fff"/>
<rect x="1596.5" y="585.0" width="8.0" height="3.0" fill="#fff"/>
<ellipse cx="1599.5" cy="573.5" rx="4.5" ry="3.8" fill="#5A78D8" stroke="#223" stroke-width="1"/>
<line x1="1584.5" y1="573.5" x2="1607.5" y2="573.5" stroke="#fff" stroke-width="1.8" />
<line x1="1580.5" y1="557.5" x2="1580.5" y2="589.5" stroke="#000" stroke-width="1.44" />
<line x1="1556" y1="573.5" x2="1581" y2="573.5" stroke="#000" stroke-width="3.12" />
<line x1="1608.5" y1="573.5" x2="1640" y2="573.5" stroke="#000" stroke-width="2.64" />
<rect x="1546" y="568.0" width="8" height="2.5" fill="#444"/>
<rect x="1546" y="576.5" width="8" height="2.5" fill="#444"/>
<path d="M1553,567.0 a6,6 0 0 1 0,13" fill="#fff" stroke="#000" stroke-width="1.1"/>
<rect x="1553" y="570.5" width="5" height="5.0" fill="#303030"/>
<rect x="1581.5" y="604" width="26.0" height="32" fill="#303030"/>
<rect x="1606.5" y="597" width="5.0" height="5" fill="#303030"/>
<rect x="1606.5" y="638" width="5.0" height="5" fill="#303030"/>
<path d="M1601.5,604 q2,-5 8,-5 M1601.5,636 q2,5 8,5" fill="none" stroke="#000" stroke-width="1.44" />
<rect x="1584.5" y="606.2" width="5.0" height="10.0" fill="#fff"/>
<rect x="1584.5" y="606" width="12.0" height="4" fill="#fff"/>
<rect x="1598.5" y="608.0" width="7.0" height="5.0" fill="#fff"/>
<rect x="1596.5" y="605.5" width="8.0" height="3.0" fill="#fff"/>
<rect x="1584.5" y="623.8" width="5.0" height="10.0" fill="#fff"/>
<rect x="1584.5" y="630" width="12.0" height="4" fill="#fff"/>
<rect x="1598.5" y="624.0" width="7.0" height="5.0" fill="#fff"/>
<rect x="1596.5" y="631.5" width="8.0" height="3.0" fill="#fff"/>
<ellipse cx="1599.5" cy="620" rx="4.5" ry="3.8" fill="#5A78D8" stroke="#223" stroke-width="1"/>
<line x1="1584.5" y1="620" x2="1607.5" y2="620" stroke="#fff" stroke-width="1.8" />
<line x1="1580.5" y1="604" x2="1580.5" y2="636" stroke="#000" stroke-width="1.44" />
<line x1="1556" y1="620" x2="1581" y2="620" stroke="#000" stroke-width="3.12" />
<line x1="1608.5" y1="620" x2="1640" y2="620" stroke="#000" stroke-width="2.64" />
<rect x="1546" y="614.5" width="8" height="2.5" fill="#444"/>
<rect x="1546" y="623" width="8" height="2.5" fill="#444"/>
<path d="M1553,613.5 a6,6 0 0 1 0,13" fill="#fff" stroke="#000" stroke-width="1.1"/>
<rect x="1553" y="617" width="5" height="5" fill="#303030"/>
<rect x="1581.5" y="650.5" width="26.0" height="32.0" fill="#303030"/>
<rect x="1606.5" y="643.5" width="5.0" height="5.0" fill="#303030"/>
<rect x="1606.5" y="684.5" width="5.0" height="5.0" fill="#303030"/>
<path d="M1601.5,650.5 q2,-5 8,-5 M1601.5,682.5 q2,5 8,5" fill="none" stroke="#000" stroke-width="1.44" />
<rect x="1584.5" y="652.7" width="5.0" height="10.0" fill="#fff"/>
<rect x="1584.5" y="652.5" width="12.0" height="4.0" fill="#fff"/>
<rect x="1598.5" y="654.5" width="7.0" height="5.0" fill="#fff"/>
<rect x="1596.5" y="652.0" width="8.0" height="3.0" fill="#fff"/>
<rect x="1584.5" y="670.3" width="5.0" height="10.0" fill="#fff"/>
<rect x="1584.5" y="676.5" width="12.0" height="4.0" fill="#fff"/>
<rect x="1598.5" y="670.5" width="7.0" height="5.0" fill="#fff"/>
<rect x="1596.5" y="678.0" width="8.0" height="3.0" fill="#fff"/>
<ellipse cx="1599.5" cy="666.5" rx="4.5" ry="3.8" fill="#5A78D8" stroke="#223" stroke-width="1"/>
<line x1="1584.5" y1="666.5" x2="1607.5" y2="666.5" stroke="#fff" stroke-width="1.8" />
<line x1="1580.5" y1="650.5" x2="1580.5" y2="682.5" stroke="#000" stroke-width="1.44" />
<line x1="1556" y1="666.5" x2="1581" y2="666.5" stroke="#000" stroke-width="3.12" />
<line x1="1608.5" y1="666.5" x2="1640" y2="666.5" stroke="#000" stroke-width="2.64" />
<rect x="1546" y="661.0" width="8" height="2.5" fill="#444"/>
<rect x="1546" y="669.5" width="8" height="2.5" fill="#444"/>
<path d="M1553,660.0 a6,6 0 0 1 0,13" fill="#fff" stroke="#000" stroke-width="1.1"/>
<rect x="1553" y="663.5" width="5" height="5.0" fill="#303030"/>
<rect x="1581.5" y="697" width="26.0" height="32" fill="#303030"/>
<rect x="1606.5" y="690" width="5.0" height="5" fill="#303030"/>
<rect x="1606.5" y="731" width="5.0" height="5" fill="#303030"/>
<path d="M1601.5,697 q2,-5 8,-5 M1601.5,729 q2,5 8,5" fill="none" stroke="#000" stroke-width="1.44" />
<rect x="1584.5" y="699.2" width="5.0" height="10.0" fill="#fff"/>
<rect x="1584.5" y="699" width="12.0" height="4" fill="#fff"/>
<rect x="1598.5" y="701.0" width="7.0" height="5.0" fill="#fff"/>
<rect x="1596.5" y="698.5" width="8.0" height="3.0" fill="#fff"/>
<rect x="1584.5" y="716.8" width="5.0" height="10.0" fill="#fff"/>
<rect x="1584.5" y="723" width="12.0" height="4" fill="#fff"/>
<rect x="1598.5" y="717.0" width="7.0" height="5.0" fill="#fff"/>
<rect x="1596.5" y="724.5" width="8.0" height="3.0" fill="#fff"/>
<ellipse cx="1599.5" cy="713" rx="4.5" ry="3.8" fill="#5A78D8" stroke="#223" stroke-width="1"/>
<line x1="1584.5" y1="713" x2="1607.5" y2="713" stroke="#fff" stroke-width="1.8" />
<line x1="1580.5" y1="697" x2="1580.5" y2="729" stroke="#000" stroke-width="1.44" />
<line x1="1556" y1="713" x2="1581" y2="713" stroke="#000" stroke-width="3.12" />
<line x1="1608.5" y1="713" x2="1640" y2="713" stroke="#000" stroke-width="2.64" />
<rect x="1546" y="707.5" width="8" height="2.5" fill="#444"/>
<rect x="1546" y="716" width="8" height="2.5" fill="#444"/>
<path d="M1553,706.5 a6,6 0 0 1 0,13" fill="#fff" stroke="#000" stroke-width="1.1"/>
<rect x="1553" y="710" width="5" height="5" fill="#303030"/>
<rect x="1581.5" y="743.5" width="26.0" height="32.0" fill="#303030"/>
<rect x="1606.5" y="736.5" width="5.0" height="5.0" fill="#303030"/>
<rect x="1606.5" y="777.5" width="5.0" height="5.0" fill="#303030"/>
<path d="M1601.5,743.5 q2,-5 8,-5 M1601.5,775.5 q2,5 8,5" fill="none" stroke="#000" stroke-width="1.44" />
<rect x="1584.5" y="745.7" width="5.0" height="10.0" fill="#fff"/>
<rect x="1584.5" y="745.5" width="12.0" height="4.0" fill="#fff"/>
<rect x="1598.5" y="747.5" width="7.0" height="5.0" fill="#fff"/>
<rect x="1596.5" y="745.0" width="8.0" height="3.0" fill="#fff"/>
<rect x="1584.5" y="763.3" width="5.0" height="10.0" fill="#fff"/>
<rect x="1584.5" y="769.5" width="12.0" height="4.0" fill="#fff"/>
<rect x="1598.5" y="763.5" width="7.0" height="5.0" fill="#fff"/>
<rect x="1596.5" y="771.0" width="8.0" height="3.0" fill="#fff"/>
<ellipse cx="1599.5" cy="759.5" rx="4.5" ry="3.8" fill="#5A78D8" stroke="#223" stroke-width="1"/>
<line x1="1584.5" y1="759.5" x2="1607.5" y2="759.5" stroke="#fff" stroke-width="1.8" />
<line x1="1580.5" y1="743.5" x2="1580.5" y2="775.5" stroke="#000" stroke-width="1.44" />
<line x1="1556" y1="759.5" x2="1581" y2="759.5" stroke="#000" stroke-width="3.12" />
<line x1="1608.5" y1="759.5" x2="1640" y2="759.5" stroke="#000" stroke-width="2.64" />
<rect x="1546" y="754.0" width="8" height="2.5" fill="#444"/>
<rect x="1546" y="762.5" width="8" height="2.5" fill="#444"/>
<path d="M1553,753.0 a6,6 0 0 1 0,13" fill="#fff" stroke="#000" stroke-width="1.1"/>
<rect x="1553" y="756.5" width="5" height="5.0" fill="#303030"/>
<line x1="1565.0" y1="561.3" x2="1573.0" y2="561.3" stroke="#303030" stroke-width="1.2" />
<line x1="1616.0" y1="561.3" x2="1624.0" y2="561.3" stroke="#303030" stroke-width="1.2" />
<line x1="1565.0" y1="584.5" x2="1573.0" y2="584.5" stroke="#303030" stroke-width="1.2" />
<line x1="1616.0" y1="584.5" x2="1624.0" y2="584.5" stroke="#303030" stroke-width="1.2" />
<line x1="1565.0" y1="607.8" x2="1573.0" y2="607.8" stroke="#303030" stroke-width="1.2" />
<line x1="1616.0" y1="607.8" x2="1624.0" y2="607.8" stroke="#303030" stroke-width="1.2" />
<line x1="1565.0" y1="631.0" x2="1573.0" y2="631.0" stroke="#303030" stroke-width="1.2" />
<line x1="1616.0" y1="631.0" x2="1624.0" y2="631.0" stroke="#303030" stroke-width="1.2" />
<line x1="1565.0" y1="654.3" x2="1573.0" y2="654.3" stroke="#303030" stroke-width="1.2" />
<line x1="1616.0" y1="654.3" x2="1624.0" y2="654.3" stroke="#303030" stroke-width="1.2" />
<line x1="1565.0" y1="677.5" x2="1573.0" y2="677.5" stroke="#303030" stroke-width="1.2" />
<line x1="1616.0" y1="677.5" x2="1624.0" y2="677.5" stroke="#303030" stroke-width="1.2" />
<line x1="1565.0" y1="700.8" x2="1573.0" y2="700.8" stroke="#303030" stroke-width="1.2" />
<line x1="1616.0" y1="700.8" x2="1624.0" y2="700.8" stroke="#303030" stroke-width="1.2" />
<line x1="1565.0" y1="724.0" x2="1573.0" y2="724.0" stroke="#303030" stroke-width="1.2" />
<line x1="1616.0" y1="724.0" x2="1624.0" y2="724.0" stroke="#303030" stroke-width="1.2" />
<line x1="1565.0" y1="747.3" x2="1573.0" y2="747.3" stroke="#303030" stroke-width="1.2" />
<line x1="1616.0" y1="747.3" x2="1624.0" y2="747.3" stroke="#303030" stroke-width="1.2" />
<line x1="1565.0" y1="770.5" x2="1573.0" y2="770.5" stroke="#303030" stroke-width="1.2" />
<line x1="1616.0" y1="770.5" x2="1624.0" y2="770.5" stroke="#303030" stroke-width="1.2" />
<path d="M1470.5,768.5 H1433.5 V801 A37.5,37.5 0 0 0 1471,838.5 H1640" fill="none" stroke="#000" stroke-width="1.92" />
<path d="M1434.3,770 V801 A36.7,36.7 0 0 0 1471,837.8 H1640" fill="none" stroke="#3A48B8" stroke-width="1.2" stroke-dasharray="12 3"/>
<path d="M1441,768.5 V800 A31,31 0 0 0 1472,831 H1631" fill="none" stroke="#000" stroke-width="1.32" />
<path d="M1437,768.5 V800 A34,34 0 0 0 1471,834.5 H1636" fill="none" stroke="#000" stroke-width="0.96" />
<line x1="1434" y1="771" x2="1470" y2="771" stroke="#000" stroke-width="1.2" />
<line x1="1434" y1="774" x2="1470" y2="774" stroke="#000" stroke-width="1.08" />
<line x1="1474" y1="782" x2="1640" y2="782" stroke="#000" stroke-width="2.16" />
<line x1="1476" y1="783.5" x2="1556" y2="783.5" stroke="#3A48B8" stroke-width="1.08" />
<line x1="1456" y1="808" x2="1632" y2="808" stroke="#000" stroke-width="1.68" />
<line x1="1434" y1="796" x2="1456" y2="796" stroke="#000" stroke-width="1.56" />
<line x1="1456.5" y1="768.5" x2="1456.5" y2="826" stroke="#000" stroke-width="1.56" />
<line x1="1479.0" y1="808" x2="1479.0" y2="838" stroke="#000" stroke-width="1.44" />
<line x1="1482.0" y1="808" x2="1482.0" y2="838" stroke="#000" stroke-width="1.44" />
<line x1="1500.5" y1="808" x2="1500.5" y2="838" stroke="#000" stroke-width="1.44" />
<line x1="1503.5" y1="808" x2="1503.5" y2="838" stroke="#000" stroke-width="1.44" />
<line x1="1520.0" y1="808" x2="1520.0" y2="838" stroke="#000" stroke-width="1.44" />
<line x1="1523.0" y1="808" x2="1523.0" y2="838" stroke="#000" stroke-width="1.44" />
<line x1="1565.5" y1="808" x2="1565.5" y2="838" stroke="#000" stroke-width="1.44" />
<line x1="1568.5" y1="808" x2="1568.5" y2="838" stroke="#000" stroke-width="1.44" />
<line x1="1589.5" y1="808" x2="1589.5" y2="838" stroke="#000" stroke-width="1.44" />
<line x1="1592.5" y1="808" x2="1592.5" y2="838" stroke="#000" stroke-width="1.44" />
<line x1="1540" y1="782" x2="1540" y2="838" stroke="#000" stroke-width="1.68" />
<line x1="1543.5" y1="782" x2="1543.5" y2="838" stroke="#000" stroke-width="1.68" />
<line x1="1546" y1="782" x2="1546" y2="838" stroke="#000" stroke-width="1.08" />
<line x1="1474" y1="782" x2="1474" y2="808" stroke="#000" stroke-width="1.44" />
<line x1="1605" y1="782" x2="1605" y2="808" stroke="#000" stroke-width="1.8" />
<line x1="1630" y1="782" x2="1630" y2="838" stroke="#000" stroke-width="1.44" />
<rect x="1483" y="785" width="41" height="21" fill="#303030"/>
<rect x="1487" y="788" width="9" height="8" fill="#fff"/>
<rect x="1510" y="788" width="10" height="8" fill="#fff"/>
<rect x="1490" y="799" width="10" height="4" fill="#fff"/>
<rect x="1506" y="799" width="10" height="4" fill="#fff"/>
<ellipse cx="1503" cy="791" rx="4" ry="5" fill="#5A78D8" stroke="#223" stroke-width="1"/>
<rect x="1497" y="797" width="12" height="3" fill="#fff"/>
<rect x="1568" y="785" width="36" height="21" fill="#303030"/>
<rect x="1570" y="788" width="6" height="15" fill="#fff"/>
<rect x="1579" y="794" width="7" height="9" fill="#fff"/>
<rect x="1589" y="788" width="12" height="5" fill="#fff"/>
<rect x="1591" y="797" width="10" height="6" fill="#fff"/>
<rect x="1571" y="786" width="9" height="7" fill="#8AA6E8"/>
<path d="M1474.5,812 q1,-4 6,-4 q5,0 6,4" fill="#fff" stroke="#000" stroke-width="1.44" />
<rect x="1479.0" y="808" width="3.0" height="8" fill="#303030"/>
<path d="M1496,812 q1,-4 6,-4 q5,0 6,4" fill="#fff" stroke="#000" stroke-width="1.44" />
<rect x="1500.5" y="808" width="3.0" height="8" fill="#303030"/>
<path d="M1515.5,812 q1,-4 6,-4 q5,0 6,4" fill="#fff" stroke="#000" stroke-width="1.44" />
<rect x="1520.0" y="808" width="3.0" height="8" fill="#303030"/>
<path d="M1561,812 q1,-4 6,-4 q5,0 6,4" fill="#fff" stroke="#000" stroke-width="1.44" />
<rect x="1565.5" y="808" width="3.0" height="8" fill="#303030"/>
<path d="M1585,812 q1,-4 6,-4 q5,0 6,4" fill="#fff" stroke="#000" stroke-width="1.44" />
<rect x="1589.5" y="808" width="3.0" height="8" fill="#303030"/>
<line x1="1442.0" y1="786" x2="1450.0" y2="786" stroke="#303030" stroke-width="1.2" />
<line x1="1461.0" y1="795" x2="1469.0" y2="795" stroke="#303030" stroke-width="1.2" />
<line x1="1461.0" y1="815" x2="1469.0" y2="815" stroke="#303030" stroke-width="1.2" />
<line x1="1487.0" y1="822" x2="1495.0" y2="822" stroke="#303030" stroke-width="1.2" />
<line x1="1508.0" y1="822" x2="1516.0" y2="822" stroke="#303030" stroke-width="1.2" />
<line x1="1527.0" y1="795" x2="1535.0" y2="795" stroke="#303030" stroke-width="1.2" />
<line x1="1551.0" y1="795" x2="1559.0" y2="795" stroke="#303030" stroke-width="1.2" />
<line x1="1552.0" y1="822" x2="1560.0" y2="822" stroke="#303030" stroke-width="1.2" />
<line x1="1575.0" y1="822" x2="1583.0" y2="822" stroke="#303030" stroke-width="1.2" />
<line x1="1613.0" y1="795" x2="1621.0" y2="795" stroke="#303030" stroke-width="1.2" />
<line x1="1613.0" y1="822" x2="1621.0" y2="822" stroke="#303030" stroke-width="1.2" />
<line x1="1444.0" y1="812" x2="1452.0" y2="812" stroke="#303030" stroke-width="1.2" />
<rect x="1460" y="799" width="8" height="3" fill="#222"/>
<line x1="1434" y1="801" x2="1462" y2="801" stroke="#000" stroke-width="2.4" />
<rect x="1533" y="776" width="8" height="3.5" fill="#333"/>
<rect x="1544" y="776" width="8" height="3.5" fill="#333"/>
<rect x="1476" y="771" width="8" height="3" fill="#333"/>
<path d="M1470.8,769 V728 A11.6,11.6 0 0 1 1494,728 V755 H1496 V751 A8,8 0 0 1 1512,751 V768.5" fill="none" stroke="#26328F" stroke-width="1.92" />
<path d="M1470.8,769 V782 M1473,771 l4,9 H1486" fill="none" stroke="#000" stroke-width="1.44" />
<rect x="1473" y="728" width="19.5" height="26.5" fill="#D98AD8"/>
<line x1="1473" y1="731.3" x2="1492.5" y2="731.3" stroke="#B060B0" stroke-width="0.96" />
<line x1="1473" y1="734.6" x2="1492.5" y2="734.6" stroke="#B060B0" stroke-width="0.96" />
<line x1="1473" y1="737.9" x2="1492.5" y2="737.9" stroke="#B060B0" stroke-width="0.96" />
<line x1="1473" y1="741.2" x2="1492.5" y2="741.2" stroke="#B060B0" stroke-width="0.96" />
<line x1="1473" y1="744.5" x2="1492.5" y2="744.5" stroke="#B060B0" stroke-width="0.96" />
<line x1="1473" y1="747.8" x2="1492.5" y2="747.8" stroke="#B060B0" stroke-width="0.96" />
<line x1="1473" y1="751.1" x2="1492.5" y2="751.1" stroke="#B060B0" stroke-width="0.96" />
<rect x="1480.8" y="728" width="3.8" height="26.5" fill="#0a0a0a"/>
<path d="M1496,755 v-4 a8,8 0 0 1 16,0 v4 z" fill="#4A5CCB"/>
<circle cx="1504" cy="749" r="5.3" fill="#fff"/>
<path d="M1185,297.5 V287 A39,39 0 0 1 1224,248 H1277" fill="none" stroke="#000" stroke-width="1.92" />
<path d="M1185.8,297 V287 A38.2,38.2 0 0 1 1224,248.8 H1270" fill="none" stroke="#3A48B8" stroke-width="1.2" />
<path d="M1196,297.5 V289 A30,30 0 0 1 1226,259 H1270" fill="none" stroke="#000" stroke-width="1.44" />
<path d="M1201,297.5 V290 A26,26 0 0 1 1227,264 H1240" fill="none" stroke="#000" stroke-width="1.2" />
<line x1="1186" y1="297.5" x2="1270" y2="297.5" stroke="#000" stroke-width="2.16" />
<line x1="1190" y1="295.5" x2="1268" y2="295.5" stroke="#3A48B8" stroke-width="1.08" />
<line x1="1212" y1="268" x2="1212" y2="297.5" stroke="#000" stroke-width="1.56" />
<line x1="1240" y1="259" x2="1240" y2="297.5" stroke="#000" stroke-width="1.56" />
<line x1="1270" y1="259" x2="1270" y2="297.5" stroke="#000" stroke-width="1.56" />
<line x1="1212" y1="277" x2="1270" y2="277" stroke="#000" stroke-width="1.56" />
<line x1="1243" y1="259" x2="1243" y2="277" stroke="#000" stroke-width="1.2" />
<rect x="1218" y="252" width="20" height="10" fill="#303030"/>
<rect x="1221" y="255" width="6" height="4" fill="#fff"/>
<rect x="1231" y="254" width="5" height="4" fill="#8AA6E8"/>
<rect x="1234" y="270" width="7" height="6" fill="#303030"/>
<rect x="1262" y="245" width="8" height="13" fill="#222"/>
<rect x="1264" y="247" width="4" height="4" fill="#fff"/>
<line x1="1189.5" y1="283" x2="1198.5" y2="283" stroke="#303030" stroke-width="1.2" />
<line x1="1220.5" y1="283" x2="1229.5" y2="283" stroke="#303030" stroke-width="1.2" />
<line x1="1249.5" y1="283" x2="1258.5" y2="283" stroke="#303030" stroke-width="1.2" />
<line x1="1251.5" y1="264" x2="1260.5" y2="264" stroke="#303030" stroke-width="1.2" />
<path d="M1262,245 q6,-22 22,-27" fill="none" stroke="#3A48B8" stroke-width="1.56" />
<path d="M1282,238 q5,-14 17,-20" fill="none" stroke="#3A48B8" stroke-width="1.56" />
<line x1="1270" y1="297.5" x2="1466.5" y2="494" stroke="#000" stroke-width="2.16" />
<path d="M1277,248 C1300,247 1322,262 1322,287 C1322,302 1330,312 1342,325 L1452,436 C1462,445 1472,444 1484,446 C1504,450 1514,468 1514,492" fill="none" stroke="#000" stroke-width="1.92" />
<path d="M1277,257 C1296,256 1313,270 1313,290 C1313,305 1322,316 1334,329 L1445,441 C1456,451 1468,452 1480,454 C1496,457 1505,472 1505,492" fill="none" stroke="#000" stroke-width="1.32" />
<path d="M1290,249.5 C1308,252 1323.5,266 1323.5,287 C1323.5,301 1331,311 1343,324 L1453,435 C1463,444 1473,443 1485,445" fill="none" stroke="#3A48B8" stroke-width="1.08" stroke-dasharray="22 6"/>
<line x1="1271" y1="287" x2="1301" y2="255" stroke="#000" stroke-width="1.32" />
<line x1="1272" y1="281" x2="1311" y2="303" stroke="#000" stroke-width="1.32" />
<line x1="1275" y1="297" x2="1319" y2="285" stroke="#000" stroke-width="1.32" />
<line x1="1452" y1="472" x2="1479" y2="446" stroke="#000" stroke-width="1.32" />
<line x1="1472" y1="490" x2="1499" y2="453" stroke="#000" stroke-width="1.32" />
<line x1="1480" y1="494" x2="1512" y2="476" stroke="#000" stroke-width="1.32" />
<line x1="1306.8" y1="314.5" x2="1319.1" y2="302.1" stroke="#000" stroke-width="1.44" />
<line x1="1320.9" y1="328.6" x2="1333.3" y2="316.2" stroke="#000" stroke-width="1.44" />
<line x1="1335.1" y1="342.8" x2="1347.4" y2="330.4" stroke="#000" stroke-width="1.44" />
<line x1="1363.3" y1="371.0" x2="1375.7" y2="358.7" stroke="#000" stroke-width="1.44" />
<line x1="1386.0" y1="393.7" x2="1398.3" y2="381.3" stroke="#000" stroke-width="1.44" />
<line x1="1404.3" y1="412.1" x2="1416.7" y2="399.7" stroke="#000" stroke-width="1.44" />
<line x1="1418.5" y1="426.2" x2="1430.9" y2="413.8" stroke="#000" stroke-width="1.44" />
<line x1="1432.6" y1="440.3" x2="1445.0" y2="428.0" stroke="#000" stroke-width="1.44" />
<line x1="1446.8" y1="454.5" x2="1459.1" y2="442.1" stroke="#000" stroke-width="1.44" />
<line x1="1460.9" y1="468.6" x2="1473.3" y2="456.2" stroke="#000" stroke-width="1.44" />
<line x1="1301.1" y1="308.8" x2="1465.2" y2="472.9" stroke="#000" stroke-width="1.56" />
<line x1="1332.9" y1="322.2" x2="1465.9" y2="455.2" stroke="#000" stroke-width="1.08" />
<line x1="1356.3" y1="352.7" x2="1437.6" y2="434.0" stroke="#000" stroke-width="1.08" />
<g transform="translate(1341.4 347.7) rotate(45)"><rect x="-15" y="-10" width="30" height="20" fill="#fff" stroke="#000" stroke-width="2.2"/><path d="M-15,0 H15 M-5,-10 V10 M5,-10 V10" stroke="#000" stroke-width="1.8" fill="none"/><rect x="-10" y="-6" width="7" height="5" fill="#fff"/><rect x="2" y="-6" width="8" height="5" fill="#fff"/><rect x="-9" y="2" width="8" height="4" fill="#fff"/><rect x="3" y="2" width="7" height="4" fill="#fff"/><ellipse cx="2" cy="-14" rx="3.5" ry="3" fill="#5A78D8"/></g>
<g transform="translate(1420.6 426.9) rotate(45)"><rect x="-15" y="-10" width="30" height="20" fill="#fff" stroke="#000" stroke-width="2.2"/><path d="M-15,0 H15 M-5,-10 V10 M5,-10 V10" stroke="#000" stroke-width="1.8" fill="none"/><rect x="-10" y="-6" width="7" height="5" fill="#fff"/><rect x="2" y="-6" width="8" height="5" fill="#fff"/><rect x="-9" y="2" width="8" height="4" fill="#fff"/><rect x="3" y="2" width="7" height="4" fill="#fff"/><ellipse cx="2" cy="-14" rx="3.5" ry="3" fill="#5A78D8"/></g>
<line x1="1366.9" y1="391.5" x2="1390.9" y2="367.5" stroke="#000" stroke-width="1.44" />
<line x1="1369.7" y1="394.4" x2="1393.7" y2="370.3" stroke="#000" stroke-width="1.44" />
<line x1="1317.9" y1="313.5" x2="1324.9" y2="315.5" stroke="#333" stroke-width="1.08" />
<line x1="1354.7" y1="350.2" x2="1361.7" y2="352.2" stroke="#333" stroke-width="1.08" />
<line x1="1400.6" y1="396.2" x2="1407.6" y2="398.2" stroke="#333" stroke-width="1.08" />
<line x1="1443.8" y1="439.3" x2="1450.8" y2="441.3" stroke="#333" stroke-width="1.08" />
<path d="M1325.4,333.1 q4,-1 4,4 q0,4 4,4" fill="none" stroke="#000" stroke-width="1.5"/>
<path d="M1346.6,354.3 q4,-1 4,4 q0,4 4,4" fill="none" stroke="#000" stroke-width="1.5"/>
<path d="M1406.7,414.4 q4,-1 4,4 q0,4 4,4" fill="none" stroke="#000" stroke-width="1.5"/>
<path d="M1427.9,435.6 q4,-1 4,4 q0,4 4,4" fill="none" stroke="#000" stroke-width="1.5"/>
<path d="M1449.1,456.8 q4,-1 4,4 q0,4 4,4" fill="none" stroke="#000" stroke-width="1.5"/>
<path d="M1466.5,494 H1505 M1466.5,494 V557 M1466.5,557 H1480 C1500,556 1514,538 1513,505" fill="none" stroke="#000" stroke-width="1.92" />
<path d="M1481,556 C1499,554 1512,538 1511.5,506" fill="none" stroke="#3A48B8" stroke-width="1.2" />
<path d="M1466.5,549 H1482 C1497,547 1506,535 1506,520" fill="none" stroke="#000" stroke-width="1.32" />
<path d="M1466.5,544 H1482 C1494,542 1501,533 1501,520" fill="none" stroke="#000" stroke-width="1.08" />
<line x1="1472" y1="494" x2="1472" y2="552" stroke="#000" stroke-width="1.2" />
<line x1="1489" y1="494" x2="1489" y2="545" stroke="#000" stroke-width="1.56" />
<line x1="1466.5" y1="520" x2="1500" y2="520" stroke="#000" stroke-width="1.56" />
<rect x="1490" y="508" width="14" height="24" fill="#303030"/>
<rect x="1493" y="511" width="5" height="5" fill="#fff"/>
<rect x="1494" y="524" width="7" height="4" fill="#fff"/>
<rect x="1502" y="506" width="5" height="22" fill="#3A48B8"/>
<rect x="1483" y="514" width="7" height="5" fill="#303030"/>
<line x1="1475.0" y1="506" x2="1483.0" y2="506" stroke="#303030" stroke-width="1.2" />
<line x1="1475.0" y1="532" x2="1483.0" y2="532" stroke="#303030" stroke-width="1.2" />
<rect x="1511" y="488" width="10" height="3" fill="#444"/>
<rect x="1512" y="497" width="10" height="3" fill="#444"/>
<path d="M1510,486 q4,5 0,12" fill="#fff" stroke="#000" stroke-width="1"/>
<path d="M1515,484 C1528,480 1540,472 1543.5,462" fill="none" stroke="#3A48B8" stroke-width="1.56" />
<path d="M1513,508 C1526,504 1538,496 1543.5,486" fill="none" stroke="#3A48B8" stroke-width="1.56" />
</g>
<g id="callouts" font-family="'Liberation Serif','DejaVu Sans',serif" text-anchor="middle">
<rect x="983.5" y="502" width="281.5" height="88.5" fill="#fff" stroke="#000" stroke-width="4.5"/>
<rect x="899.5" y="1022" width="386" height="186" fill="none" stroke="#000" stroke-width="4.5"/>
<line x1="1149" y1="499" x2="1301" y2="215" stroke="#000" stroke-width="4.5"/>
<path d="M1306,206 L1304,220 L1294.5,215 Z" fill="#000"/>
<line x1="894.5" y1="1070" x2="759" y2="977" stroke="#000" stroke-width="4.5"/>
<path d="M752.5,972.5 L766,975.5 L760.5,984 Z" fill="#000"/>
<text x="1123" y="562" font-size="44" fill="#0000FF" style="filter:drop-shadow(2px 2px 1.5px rgba(0,0,0,.35))">الموقع</text>
<text x="1092" y="1101" font-size="46" fill="#000" style="filter:drop-shadow(2px 2px 1.5px rgba(0,0,0,.3))">التصميم</text>
<text x="1092.5" y="1165" font-size="58" letter-spacing="1.2" fill="#000" style="filter:drop-shadow(2px 2px 1.5px rgba(0,0,0,.3))">T-10</text>
</g>
</svg>
</body></html>
